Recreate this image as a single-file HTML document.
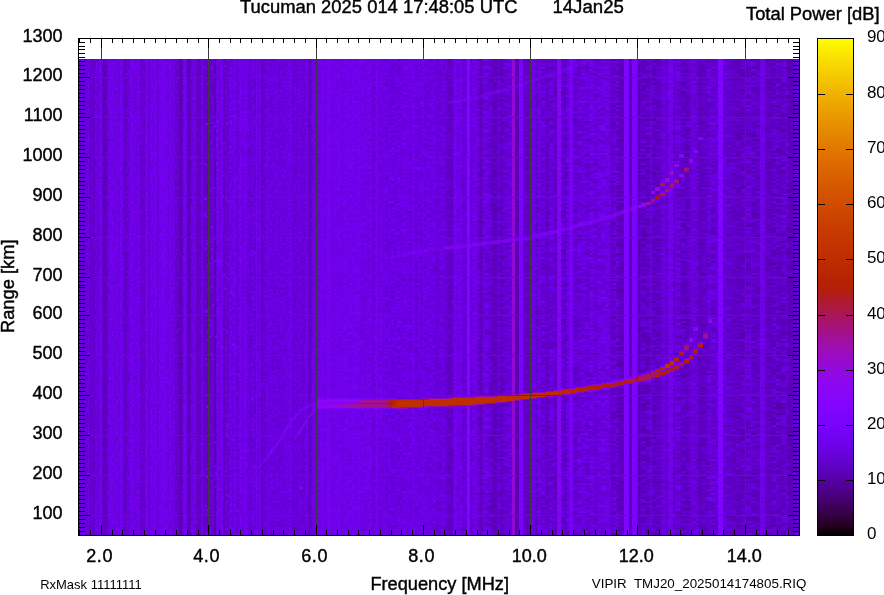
<!DOCTYPE html>
<html lang="en"><head><meta charset="utf-8"><title>Tucuman 2025 014 17:48:05 UTC ionogram</title>
<style>html,body{margin:0;padding:0;background:#fff;overflow:hidden}svg{display:block}text{font-family:"Liberation Sans",sans-serif;fill:#000}</style></head><body>
<svg width="884" height="595" viewBox="0 0 884 595">
<defs>
<linearGradient id="cb" x1="0" y1="0" x2="0" y2="1">
<stop offset="0.0000" stop-color="#ffff00"/>
<stop offset="0.0222" stop-color="#fcee00"/>
<stop offset="0.0444" stop-color="#f9de00"/>
<stop offset="0.0667" stop-color="#f6cf00"/>
<stop offset="0.0889" stop-color="#f3c100"/>
<stop offset="0.1111" stop-color="#f0b300"/>
<stop offset="0.1333" stop-color="#eda600"/>
<stop offset="0.1556" stop-color="#ea9a00"/>
<stop offset="0.1778" stop-color="#e78e00"/>
<stop offset="0.2000" stop-color="#e48300"/>
<stop offset="0.2222" stop-color="#e17800"/>
<stop offset="0.2444" stop-color="#de6e00"/>
<stop offset="0.2667" stop-color="#da6500"/>
<stop offset="0.2889" stop-color="#d75c00"/>
<stop offset="0.3111" stop-color="#d45300"/>
<stop offset="0.3333" stop-color="#d04c00"/>
<stop offset="0.3556" stop-color="#cd4400"/>
<stop offset="0.3778" stop-color="#c93d00"/>
<stop offset="0.4000" stop-color="#c63700"/>
<stop offset="0.4222" stop-color="#c23100"/>
<stop offset="0.4444" stop-color="#be2c00"/>
<stop offset="0.4667" stop-color="#ba2700"/>
<stop offset="0.4889" stop-color="#b62200"/>
<stop offset="0.5111" stop-color="#b21e12"/>
<stop offset="0.5333" stop-color="#ae1a35"/>
<stop offset="0.5556" stop-color="#aa1657"/>
<stop offset="0.5778" stop-color="#a61378"/>
<stop offset="0.6000" stop-color="#a11096"/>
<stop offset="0.6222" stop-color="#9d0eb1"/>
<stop offset="0.6444" stop-color="#980bc9"/>
<stop offset="0.6667" stop-color="#9309dd"/>
<stop offset="0.6889" stop-color="#8e08ec"/>
<stop offset="0.7111" stop-color="#8906f7"/>
<stop offset="0.7333" stop-color="#8405fe"/>
<stop offset="0.7556" stop-color="#7e04ff"/>
<stop offset="0.7778" stop-color="#7803fb"/>
<stop offset="0.8000" stop-color="#7202f3"/>
<stop offset="0.8222" stop-color="#6c01e5"/>
<stop offset="0.8444" stop-color="#6501d3"/>
<stop offset="0.8667" stop-color="#5d01be"/>
<stop offset="0.8889" stop-color="#5500a4"/>
<stop offset="0.9111" stop-color="#4c0087"/>
<stop offset="0.9333" stop-color="#420068"/>
<stop offset="0.9556" stop-color="#360046"/>
<stop offset="0.9778" stop-color="#260023"/>
<stop offset="1.0000" stop-color="#000000"/>
</linearGradient>
<filter id="n0" x="0" y="0" width="100%" height="100%" color-interpolation-filters="sRGB"><feTurbulence type="fractalNoise" baseFrequency="0.83 0.71" numOctaves="1" seed="3" result="t"/><feColorMatrix in="t" type="matrix" values="0.253 0 0 0 0.287  0 0 0 0 0.004  0.581 0 0 0 0.588  0 0 0 0 1" result="c"/><feFlood x="0" y="0" width="1" height="1" flood-color="#000"/><feComposite width="1" height="2"/><feTile result="m"/><feComposite in="c" in2="m" operator="in" result="p0"/><feOffset in="p0" dx="0" dy="1" result="r1"/><feMerge><feMergeNode in="p0"/><feMergeNode in="r1"/></feMerge></filter>
<filter id="n1" x="0" y="0" width="100%" height="100%" color-interpolation-filters="sRGB"><feTurbulence type="fractalNoise" baseFrequency="0.83 0.71" numOctaves="1" seed="11" result="t"/><feColorMatrix in="t" type="matrix" values="0.160 0 0 0 0.336  0 0 0 0 0.004  0.367 0 0 0 0.701  0 0 0 0 1" result="c"/><feFlood x="0" y="0" width="1" height="1" flood-color="#000"/><feComposite width="2" height="2"/><feTile result="m"/><feComposite in="c" in2="m" operator="in" result="p0"/><feOffset in="p0" dx="1" dy="0" result="q1"/><feMerge result="row"><feMergeNode in="p0"/><feMergeNode in="q1"/></feMerge><feOffset in="row" dx="0" dy="1" result="r1"/><feMerge><feMergeNode in="row"/><feMergeNode in="r1"/></feMerge></filter>
<filter id="n2" x="0" y="0" width="100%" height="100%" color-interpolation-filters="sRGB"><feTurbulence type="fractalNoise" baseFrequency="0.83 0.71" numOctaves="1" seed="17" result="t"/><feColorMatrix in="t" type="matrix" values="0.173 0 0 0 0.329  0 0 0 0 0.004  0.398 0 0 0 0.686  0 0 0 0 1" result="c"/><feFlood x="1" y="0" width="1" height="1" flood-color="#000"/><feComposite width="3" height="2"/><feTile result="m"/><feComposite in="c" in2="m" operator="in" result="p0"/><feOffset in="p0" dx="-1" dy="0" result="q0"/><feOffset in="p0" dx="1" dy="0" result="q2"/><feMerge result="row"><feMergeNode in="p0"/><feMergeNode in="q0"/><feMergeNode in="q2"/></feMerge><feOffset in="row" dx="0" dy="1" result="r1"/><feMerge><feMergeNode in="row"/><feMergeNode in="r1"/></feMerge></filter>
<filter id="n3" x="0" y="0" width="100%" height="100%" color-interpolation-filters="sRGB"><feTurbulence type="fractalNoise" baseFrequency="0.83 0.71" numOctaves="1" seed="23" result="t"/><feColorMatrix in="t" type="matrix" values="0.227 0 0 0 0.285  0 0 0 0 0.004  0.520 0 0 0 0.585  0 0 0 0 1" result="c"/><feFlood x="1" y="0" width="1" height="1" flood-color="#000"/><feComposite width="4" height="2"/><feTile result="m"/><feComposite in="c" in2="m" operator="in" result="p0"/><feOffset in="p0" dx="-1" dy="0" result="q0"/><feOffset in="p0" dx="1" dy="0" result="q2"/><feOffset in="p0" dx="2" dy="0" result="q3"/><feMerge result="row"><feMergeNode in="p0"/><feMergeNode in="q0"/><feMergeNode in="q2"/><feMergeNode in="q3"/></feMerge><feOffset in="row" dx="0" dy="1" result="r1"/><feMerge><feMergeNode in="row"/><feMergeNode in="r1"/></feMerge></filter>
<filter id="n4" x="0" y="0" width="100%" height="100%" color-interpolation-filters="sRGB"><feTurbulence type="fractalNoise" baseFrequency="0.83 0.71" numOctaves="1" seed="29" result="t"/><feColorMatrix in="t" type="matrix" values="0.240 0 0 0 0.261  0 0 0 0 0.004  0.551 0 0 0 0.530  0 0 0 0 1" result="c"/><feFlood x="2" y="0" width="1" height="1" flood-color="#000"/><feComposite width="5" height="2"/><feTile result="m"/><feComposite in="c" in2="m" operator="in" result="p0"/><feOffset in="p0" dx="-2" dy="0" result="q0"/><feOffset in="p0" dx="-1" dy="0" result="q1"/><feOffset in="p0" dx="1" dy="0" result="q3"/><feOffset in="p0" dx="2" dy="0" result="q4"/><feMerge result="row"><feMergeNode in="p0"/><feMergeNode in="q0"/><feMergeNode in="q1"/><feMergeNode in="q3"/><feMergeNode in="q4"/></feMerge><feOffset in="row" dx="0" dy="1" result="r1"/><feMerge><feMergeNode in="row"/><feMergeNode in="r1"/></feMerge></filter>
<clipPath id="dc"><rect x="79" y="59" width="720" height="476"/></clipPath>
</defs>
<rect width="884" height="595" fill="#fff"/>
<g clip-path="url(#dc)" shape-rendering="crispEdges">
<rect x="79" y="59" width="720" height="476" fill="#6801dd"/>
<g transform="translate(79,59)"><rect x="0" y="0" width="119" height="476" filter="url(#n0)"/></g>
<g transform="translate(198,59)"><rect x="0" y="0" width="139" height="476" filter="url(#n1)"/></g>
<g transform="translate(337,59)"><rect x="0" y="0" width="140" height="476" filter="url(#n2)"/></g>
<g transform="translate(477,59)"><rect x="0" y="0" width="134" height="476" filter="url(#n3)"/></g>
<g transform="translate(611,59)"><rect x="0" y="0" width="188" height="476" filter="url(#n4)"/></g>
<rect x="79.0" y="59" width="1.6" height="476" fill="#510096" fill-opacity="0.048"/>
<rect x="80.5" y="59" width="1.6" height="476" fill="#7e04ff" fill-opacity="0.096"/>
<rect x="82.0" y="59" width="1.6" height="476" fill="#510096" fill-opacity="0.042"/>
<rect x="83.5" y="59" width="1.6" height="476" fill="#510096" fill-opacity="0.059"/>
<rect x="85.0" y="59" width="1.6" height="476" fill="#510096" fill-opacity="0.174"/>
<rect x="86.5" y="59" width="1.6" height="476" fill="#510096" fill-opacity="0.040"/>
<rect x="88.0" y="59" width="1.6" height="476" fill="#7e04ff" fill-opacity="0.208"/>
<rect x="89.5" y="59" width="1.6" height="476" fill="#7e04ff" fill-opacity="0.079"/>
<rect x="91.0" y="59" width="1.6" height="476" fill="#7e04ff" fill-opacity="0.194"/>
<rect x="92.5" y="59" width="1.6" height="476" fill="#7e04ff" fill-opacity="0.047"/>
<rect x="94.0" y="59" width="1.6" height="476" fill="#7e04ff" fill-opacity="0.074"/>
<rect x="95.5" y="59" width="1.6" height="476" fill="#7e04ff" fill-opacity="0.035"/>
<rect x="97.0" y="59" width="1.6" height="476" fill="#510096" fill-opacity="0.312"/>
<rect x="98.5" y="59" width="1.6" height="476" fill="#7e04ff" fill-opacity="0.160"/>
<rect x="100.0" y="59" width="1.6" height="476" fill="#7e04ff" fill-opacity="0.095"/>
<rect x="101.5" y="59" width="1.6" height="476" fill="#7e04ff" fill-opacity="0.093"/>
<rect x="103.0" y="59" width="1.6" height="476" fill="#510096" fill-opacity="0.316"/>
<rect x="104.5" y="59" width="1.6" height="476" fill="#510096" fill-opacity="0.326"/>
<rect x="106.0" y="59" width="1.6" height="476" fill="#510096" fill-opacity="0.166"/>
<rect x="107.5" y="59" width="1.6" height="476" fill="#510096" fill-opacity="0.088"/>
<rect x="109.0" y="59" width="1.6" height="476" fill="#7e04ff" fill-opacity="0.057"/>
<rect x="110.5" y="59" width="1.6" height="476" fill="#510096" fill-opacity="0.009"/>
<rect x="112.0" y="59" width="1.6" height="476" fill="#7e04ff" fill-opacity="0.097"/>
<rect x="113.5" y="59" width="1.6" height="476" fill="#510096" fill-opacity="0.120"/>
<rect x="115.0" y="59" width="1.6" height="476" fill="#7e04ff" fill-opacity="0.058"/>
<rect x="116.5" y="59" width="1.6" height="476" fill="#7e04ff" fill-opacity="0.074"/>
<rect x="118.0" y="59" width="1.6" height="476" fill="#510096" fill-opacity="0.124"/>
<rect x="119.5" y="59" width="1.6" height="476" fill="#7e04ff" fill-opacity="0.321"/>
<rect x="121.0" y="59" width="1.6" height="476" fill="#7e04ff" fill-opacity="0.104"/>
<rect x="122.5" y="59" width="1.6" height="476" fill="#7e04ff" fill-opacity="0.224"/>
<rect x="124.0" y="59" width="1.6" height="476" fill="#510096" fill-opacity="0.116"/>
<rect x="125.5" y="59" width="1.6" height="476" fill="#510096" fill-opacity="0.138"/>
<rect x="127.0" y="59" width="1.6" height="476" fill="#510096" fill-opacity="0.064"/>
<rect x="128.5" y="59" width="1.6" height="476" fill="#510096" fill-opacity="0.020"/>
<rect x="130.0" y="59" width="1.6" height="476" fill="#7e04ff" fill-opacity="0.118"/>
<rect x="131.5" y="59" width="1.6" height="476" fill="#7e04ff" fill-opacity="0.046"/>
<rect x="133.0" y="59" width="1.6" height="476" fill="#510096" fill-opacity="0.084"/>
<rect x="134.5" y="59" width="1.6" height="476" fill="#510096" fill-opacity="0.179"/>
<rect x="136.0" y="59" width="1.6" height="476" fill="#510096" fill-opacity="0.097"/>
<rect x="137.5" y="59" width="1.6" height="476" fill="#7e04ff" fill-opacity="0.228"/>
<rect x="139.0" y="59" width="1.6" height="476" fill="#510096" fill-opacity="0.151"/>
<rect x="140.5" y="59" width="1.6" height="476" fill="#7e04ff" fill-opacity="0.046"/>
<rect x="142.0" y="59" width="1.6" height="476" fill="#7e04ff" fill-opacity="0.080"/>
<rect x="143.5" y="59" width="1.6" height="476" fill="#510096" fill-opacity="0.279"/>
<rect x="145.0" y="59" width="1.6" height="476" fill="#7e04ff" fill-opacity="0.009"/>
<rect x="146.5" y="59" width="1.6" height="476" fill="#7e04ff" fill-opacity="0.244"/>
<rect x="148.0" y="59" width="1.6" height="476" fill="#510096" fill-opacity="0.377"/>
<rect x="149.5" y="59" width="1.6" height="476" fill="#510096" fill-opacity="0.060"/>
<rect x="151.0" y="59" width="1.6" height="476" fill="#510096" fill-opacity="0.020"/>
<rect x="152.5" y="59" width="1.6" height="476" fill="#510096" fill-opacity="0.153"/>
<rect x="154.0" y="59" width="1.6" height="476" fill="#7e04ff" fill-opacity="0.093"/>
<rect x="155.5" y="59" width="1.6" height="476" fill="#510096" fill-opacity="0.012"/>
<rect x="157.0" y="59" width="1.6" height="476" fill="#510096" fill-opacity="0.274"/>
<rect x="158.5" y="59" width="1.6" height="476" fill="#7e04ff" fill-opacity="0.155"/>
<rect x="160.0" y="59" width="1.6" height="476" fill="#7e04ff" fill-opacity="0.125"/>
<rect x="161.5" y="59" width="1.6" height="476" fill="#7e04ff" fill-opacity="0.177"/>
<rect x="163.0" y="59" width="1.6" height="476" fill="#7e04ff" fill-opacity="0.269"/>
<rect x="164.5" y="59" width="1.6" height="476" fill="#7e04ff" fill-opacity="0.068"/>
<rect x="166.0" y="59" width="1.6" height="476" fill="#7e04ff" fill-opacity="0.022"/>
<rect x="167.5" y="59" width="1.6" height="476" fill="#510096" fill-opacity="0.243"/>
<rect x="169.0" y="59" width="1.6" height="476" fill="#7e04ff" fill-opacity="0.115"/>
<rect x="170.5" y="59" width="1.6" height="476" fill="#510096" fill-opacity="0.114"/>
<rect x="172.0" y="59" width="1.6" height="476" fill="#510096" fill-opacity="0.085"/>
<rect x="173.5" y="59" width="1.6" height="476" fill="#510096" fill-opacity="0.237"/>
<rect x="175.0" y="59" width="1.6" height="476" fill="#510096" fill-opacity="0.181"/>
<rect x="176.5" y="59" width="1.6" height="476" fill="#510096" fill-opacity="0.099"/>
<rect x="178.0" y="59" width="1.6" height="476" fill="#7e04ff" fill-opacity="0.241"/>
<rect x="179.5" y="59" width="1.6" height="476" fill="#510096" fill-opacity="0.380"/>
<rect x="181.0" y="59" width="1.6" height="476" fill="#510096" fill-opacity="0.273"/>
<rect x="182.5" y="59" width="1.6" height="476" fill="#7e04ff" fill-opacity="0.045"/>
<rect x="184.0" y="59" width="1.6" height="476" fill="#7e04ff" fill-opacity="0.270"/>
<rect x="185.5" y="59" width="1.6" height="476" fill="#7e04ff" fill-opacity="0.108"/>
<rect x="187.0" y="59" width="1.6" height="476" fill="#510096" fill-opacity="0.355"/>
<rect x="188.5" y="59" width="1.6" height="476" fill="#510096" fill-opacity="0.471"/>
<rect x="190.0" y="59" width="1.6" height="476" fill="#7e04ff" fill-opacity="0.067"/>
<rect x="191.5" y="59" width="1.6" height="476" fill="#510096" fill-opacity="0.138"/>
<rect x="193.0" y="59" width="1.6" height="476" fill="#510096" fill-opacity="0.209"/>
<rect x="194.5" y="59" width="1.6" height="476" fill="#7e04ff" fill-opacity="0.183"/>
<rect x="196.0" y="59" width="1.6" height="476" fill="#7e04ff" fill-opacity="0.206"/>
<rect x="197.5" y="59" width="1.6" height="476" fill="#7e04ff" fill-opacity="0.029"/>
<rect x="199.0" y="59" width="1.6" height="476" fill="#7e04ff" fill-opacity="0.046"/>
<rect x="200.5" y="59" width="1.6" height="476" fill="#7e04ff" fill-opacity="0.081"/>
<rect x="202.0" y="59" width="1.6" height="476" fill="#7e04ff" fill-opacity="0.298"/>
<rect x="203.5" y="59" width="1.6" height="476" fill="#7e04ff" fill-opacity="0.116"/>
<rect x="205.0" y="59" width="1.6" height="476" fill="#7e04ff" fill-opacity="0.097"/>
<rect x="206.5" y="59" width="1.6" height="476" fill="#7e04ff" fill-opacity="0.102"/>
<rect x="208.0" y="59" width="1.6" height="476" fill="#510096" fill-opacity="0.293"/>
<rect x="209.5" y="59" width="1.6" height="476" fill="#7e04ff" fill-opacity="0.240"/>
<rect x="211.0" y="59" width="1.6" height="476" fill="#7e04ff" fill-opacity="0.179"/>
<rect x="212.5" y="59" width="1.6" height="476" fill="#7e04ff" fill-opacity="0.099"/>
<rect x="214.0" y="59" width="1.6" height="476" fill="#510096" fill-opacity="0.369"/>
<rect x="215.5" y="59" width="1.6" height="476" fill="#510096" fill-opacity="0.118"/>
<rect x="217.0" y="59" width="1.6" height="476" fill="#7e04ff" fill-opacity="0.158"/>
<rect x="218.5" y="59" width="1.6" height="476" fill="#510096" fill-opacity="0.339"/>
<rect x="220.0" y="59" width="1.6" height="476" fill="#510096" fill-opacity="0.034"/>
<rect x="221.5" y="59" width="1.6" height="476" fill="#7e04ff" fill-opacity="0.191"/>
<rect x="223.0" y="59" width="1.6" height="476" fill="#510096" fill-opacity="0.245"/>
<rect x="224.6" y="59" width="1.6" height="476" fill="#7e04ff" fill-opacity="0.301"/>
<rect x="226.1" y="59" width="1.6" height="476" fill="#7e04ff" fill-opacity="0.103"/>
<rect x="227.7" y="59" width="1.6" height="476" fill="#510096" fill-opacity="0.028"/>
<rect x="229.3" y="59" width="1.6" height="476" fill="#7e04ff" fill-opacity="0.061"/>
<rect x="230.8" y="59" width="1.6" height="476" fill="#7e04ff" fill-opacity="0.122"/>
<rect x="232.4" y="59" width="1.6" height="476" fill="#7e04ff" fill-opacity="0.023"/>
<rect x="234.0" y="59" width="1.7" height="476" fill="#7e04ff" fill-opacity="0.214"/>
<rect x="235.6" y="59" width="1.7" height="476" fill="#510096" fill-opacity="0.124"/>
<rect x="237.2" y="59" width="1.7" height="476" fill="#510096" fill-opacity="0.078"/>
<rect x="238.9" y="59" width="1.7" height="476" fill="#7e04ff" fill-opacity="0.195"/>
<rect x="240.5" y="59" width="1.7" height="476" fill="#7e04ff" fill-opacity="0.005"/>
<rect x="242.2" y="59" width="1.7" height="476" fill="#510096" fill-opacity="0.165"/>
<rect x="243.8" y="59" width="1.7" height="476" fill="#7e04ff" fill-opacity="0.177"/>
<rect x="245.5" y="59" width="1.7" height="476" fill="#7e04ff" fill-opacity="0.274"/>
<rect x="247.2" y="59" width="1.7" height="476" fill="#510096" fill-opacity="0.083"/>
<rect x="248.9" y="59" width="1.8" height="476" fill="#510096" fill-opacity="0.258"/>
<rect x="250.6" y="59" width="1.8" height="476" fill="#510096" fill-opacity="0.025"/>
<rect x="252.3" y="59" width="1.8" height="476" fill="#510096" fill-opacity="0.028"/>
<rect x="254.1" y="59" width="1.8" height="476" fill="#510096" fill-opacity="0.056"/>
<rect x="255.8" y="59" width="1.8" height="476" fill="#7e04ff" fill-opacity="0.263"/>
<rect x="257.6" y="59" width="1.8" height="476" fill="#510096" fill-opacity="0.192"/>
<rect x="259.3" y="59" width="1.8" height="476" fill="#7e04ff" fill-opacity="0.236"/>
<rect x="261.1" y="59" width="1.8" height="476" fill="#510096" fill-opacity="0.237"/>
<rect x="262.9" y="59" width="1.9" height="476" fill="#510096" fill-opacity="0.147"/>
<rect x="264.7" y="59" width="1.9" height="476" fill="#7e04ff" fill-opacity="0.118"/>
<rect x="266.5" y="59" width="1.9" height="476" fill="#7e04ff" fill-opacity="0.211"/>
<rect x="268.3" y="59" width="1.9" height="476" fill="#7e04ff" fill-opacity="0.161"/>
<rect x="270.2" y="59" width="1.9" height="476" fill="#7e04ff" fill-opacity="0.065"/>
<rect x="272.0" y="59" width="1.9" height="476" fill="#7e04ff" fill-opacity="0.027"/>
<rect x="273.9" y="59" width="1.9" height="476" fill="#7e04ff" fill-opacity="0.029"/>
<rect x="275.8" y="59" width="1.9" height="476" fill="#7e04ff" fill-opacity="0.108"/>
<rect x="277.7" y="59" width="2.0" height="476" fill="#510096" fill-opacity="0.033"/>
<rect x="279.6" y="59" width="2.0" height="476" fill="#7e04ff" fill-opacity="0.052"/>
<rect x="281.5" y="59" width="2.0" height="476" fill="#7e04ff" fill-opacity="0.107"/>
<rect x="283.4" y="59" width="2.0" height="476" fill="#7e04ff" fill-opacity="0.000"/>
<rect x="285.4" y="59" width="2.0" height="476" fill="#7e04ff" fill-opacity="0.143"/>
<rect x="287.3" y="59" width="2.0" height="476" fill="#7e04ff" fill-opacity="0.106"/>
<rect x="289.3" y="59" width="2.0" height="476" fill="#7e04ff" fill-opacity="0.376"/>
<rect x="291.3" y="59" width="2.0" height="476" fill="#7e04ff" fill-opacity="0.061"/>
<rect x="293.3" y="59" width="2.1" height="476" fill="#510096" fill-opacity="0.080"/>
<rect x="295.3" y="59" width="2.1" height="476" fill="#510096" fill-opacity="0.070"/>
<rect x="297.3" y="59" width="2.1" height="476" fill="#510096" fill-opacity="0.002"/>
<rect x="299.3" y="59" width="2.1" height="476" fill="#7e04ff" fill-opacity="0.173"/>
<rect x="301.4" y="59" width="2.1" height="476" fill="#510096" fill-opacity="0.063"/>
<rect x="303.4" y="59" width="2.1" height="476" fill="#7e04ff" fill-opacity="0.072"/>
<rect x="305.5" y="59" width="2.1" height="476" fill="#7e04ff" fill-opacity="0.344"/>
<rect x="307.6" y="59" width="2.2" height="476" fill="#510096" fill-opacity="0.480"/>
<rect x="309.7" y="59" width="2.2" height="476" fill="#510096" fill-opacity="0.210"/>
<rect x="311.8" y="59" width="2.2" height="476" fill="#7e04ff" fill-opacity="0.046"/>
<rect x="313.9" y="59" width="2.2" height="476" fill="#7e04ff" fill-opacity="0.074"/>
<rect x="316.1" y="59" width="2.2" height="476" fill="#7e04ff" fill-opacity="0.045"/>
<rect x="318.2" y="59" width="2.2" height="476" fill="#510096" fill-opacity="0.081"/>
<rect x="320.4" y="59" width="2.2" height="476" fill="#7e04ff" fill-opacity="0.123"/>
<rect x="322.6" y="59" width="2.3" height="476" fill="#7e04ff" fill-opacity="0.053"/>
<rect x="324.8" y="59" width="2.3" height="476" fill="#510096" fill-opacity="0.098"/>
<rect x="327.0" y="59" width="2.3" height="476" fill="#7e04ff" fill-opacity="0.454"/>
<rect x="329.3" y="59" width="2.3" height="476" fill="#7e04ff" fill-opacity="0.066"/>
<rect x="331.5" y="59" width="2.3" height="476" fill="#510096" fill-opacity="0.104"/>
<rect x="333.8" y="59" width="2.3" height="476" fill="#510096" fill-opacity="0.019"/>
<rect x="336.1" y="59" width="2.3" height="476" fill="#510096" fill-opacity="0.042"/>
<rect x="338.3" y="59" width="2.4" height="476" fill="#510096" fill-opacity="0.004"/>
<rect x="340.7" y="59" width="2.4" height="476" fill="#510096" fill-opacity="0.180"/>
<rect x="343.0" y="59" width="2.4" height="476" fill="#510096" fill-opacity="0.032"/>
<rect x="345.3" y="59" width="2.4" height="476" fill="#7e04ff" fill-opacity="0.067"/>
<rect x="347.7" y="59" width="2.4" height="476" fill="#510096" fill-opacity="0.077"/>
<rect x="350.1" y="59" width="2.4" height="476" fill="#510096" fill-opacity="0.004"/>
<rect x="352.4" y="59" width="2.5" height="476" fill="#7e04ff" fill-opacity="0.063"/>
<rect x="354.8" y="59" width="2.5" height="476" fill="#7e04ff" fill-opacity="0.057"/>
<rect x="357.3" y="59" width="2.5" height="476" fill="#7e04ff" fill-opacity="0.098"/>
<rect x="359.7" y="59" width="2.5" height="476" fill="#510096" fill-opacity="0.112"/>
<rect x="362.2" y="59" width="2.5" height="476" fill="#510096" fill-opacity="0.023"/>
<rect x="364.6" y="59" width="2.5" height="476" fill="#510096" fill-opacity="0.023"/>
<rect x="367.1" y="59" width="2.6" height="476" fill="#7e04ff" fill-opacity="0.041"/>
<rect x="369.6" y="59" width="2.6" height="476" fill="#7e04ff" fill-opacity="0.072"/>
<rect x="372.1" y="59" width="2.6" height="476" fill="#510096" fill-opacity="0.177"/>
<rect x="374.7" y="59" width="2.6" height="476" fill="#7e04ff" fill-opacity="0.072"/>
<rect x="377.2" y="59" width="2.6" height="476" fill="#510096" fill-opacity="0.096"/>
<rect x="379.8" y="59" width="2.6" height="476" fill="#7e04ff" fill-opacity="0.045"/>
<rect x="382.4" y="59" width="2.7" height="476" fill="#510096" fill-opacity="0.098"/>
<rect x="385.0" y="59" width="2.7" height="476" fill="#7e04ff" fill-opacity="0.012"/>
<rect x="387.6" y="59" width="2.7" height="476" fill="#7e04ff" fill-opacity="0.079"/>
<rect x="390.2" y="59" width="2.7" height="476" fill="#510096" fill-opacity="0.010"/>
<rect x="392.9" y="59" width="2.7" height="476" fill="#7e04ff" fill-opacity="0.013"/>
<rect x="395.6" y="59" width="2.7" height="476" fill="#7e04ff" fill-opacity="0.053"/>
<rect x="398.3" y="59" width="2.8" height="476" fill="#7e04ff" fill-opacity="0.009"/>
<rect x="401.0" y="59" width="2.8" height="476" fill="#510096" fill-opacity="0.006"/>
<rect x="403.7" y="59" width="2.8" height="476" fill="#7e04ff" fill-opacity="0.101"/>
<rect x="406.5" y="59" width="2.8" height="476" fill="#7e04ff" fill-opacity="0.069"/>
<rect x="409.2" y="59" width="2.8" height="476" fill="#510096" fill-opacity="0.019"/>
<rect x="412.0" y="59" width="2.9" height="476" fill="#7e04ff" fill-opacity="0.181"/>
<rect x="414.8" y="59" width="2.9" height="476" fill="#510096" fill-opacity="0.076"/>
<rect x="417.6" y="59" width="2.9" height="476" fill="#7e04ff" fill-opacity="0.060"/>
<rect x="420.5" y="59" width="2.9" height="476" fill="#510096" fill-opacity="0.018"/>
<rect x="423.3" y="59" width="2.9" height="476" fill="#7e04ff" fill-opacity="0.009"/>
<rect x="426.2" y="59" width="2.9" height="476" fill="#7e04ff" fill-opacity="0.047"/>
<rect x="429.1" y="59" width="3.0" height="476" fill="#7e04ff" fill-opacity="0.015"/>
<rect x="432.0" y="59" width="3.0" height="476" fill="#7e04ff" fill-opacity="0.042"/>
<rect x="435.0" y="59" width="3.0" height="476" fill="#510096" fill-opacity="0.101"/>
<rect x="437.9" y="59" width="3.0" height="476" fill="#510096" fill-opacity="0.100"/>
<rect x="440.9" y="59" width="3.0" height="476" fill="#7e04ff" fill-opacity="0.081"/>
<rect x="443.9" y="59" width="3.1" height="476" fill="#510096" fill-opacity="0.127"/>
<rect x="446.9" y="59" width="3.1" height="476" fill="#510096" fill-opacity="0.136"/>
<rect x="450.0" y="59" width="3.1" height="476" fill="#510096" fill-opacity="0.194"/>
<rect x="453.0" y="59" width="3.1" height="476" fill="#7e04ff" fill-opacity="0.167"/>
<rect x="456.1" y="59" width="3.1" height="476" fill="#7e04ff" fill-opacity="0.099"/>
<rect x="459.2" y="59" width="3.2" height="476" fill="#7e04ff" fill-opacity="0.194"/>
<rect x="462.3" y="59" width="3.2" height="476" fill="#510096" fill-opacity="0.124"/>
<rect x="465.5" y="59" width="3.2" height="476" fill="#7e04ff" fill-opacity="0.000"/>
<rect x="468.6" y="59" width="3.2" height="476" fill="#510096" fill-opacity="0.151"/>
<rect x="471.8" y="59" width="3.3" height="476" fill="#7e04ff" fill-opacity="0.101"/>
<rect x="475.0" y="59" width="3.3" height="476" fill="#7e04ff" fill-opacity="0.210"/>
<rect x="478.2" y="59" width="3.3" height="476" fill="#510096" fill-opacity="0.118"/>
<rect x="481.5" y="59" width="3.3" height="476" fill="#7e04ff" fill-opacity="0.206"/>
<rect x="484.8" y="59" width="3.3" height="476" fill="#7e04ff" fill-opacity="0.130"/>
<rect x="488.1" y="59" width="3.4" height="476" fill="#510096" fill-opacity="0.023"/>
<rect x="491.4" y="59" width="3.4" height="476" fill="#510096" fill-opacity="0.260"/>
<rect x="494.7" y="59" width="3.4" height="476" fill="#7e04ff" fill-opacity="0.186"/>
<rect x="498.1" y="59" width="3.4" height="476" fill="#510096" fill-opacity="0.013"/>
<rect x="501.4" y="59" width="3.5" height="476" fill="#510096" fill-opacity="0.080"/>
<rect x="504.9" y="59" width="3.5" height="476" fill="#7e04ff" fill-opacity="0.053"/>
<rect x="508.3" y="59" width="3.5" height="476" fill="#7e04ff" fill-opacity="0.054"/>
<rect x="511.7" y="59" width="3.5" height="476" fill="#7e04ff" fill-opacity="0.198"/>
<rect x="515.2" y="59" width="3.5" height="476" fill="#510096" fill-opacity="0.135"/>
<rect x="518.7" y="59" width="3.6" height="476" fill="#7e04ff" fill-opacity="0.150"/>
<rect x="522.2" y="59" width="3.6" height="476" fill="#7e04ff" fill-opacity="0.196"/>
<rect x="525.8" y="59" width="3.6" height="476" fill="#7e04ff" fill-opacity="0.192"/>
<rect x="529.3" y="59" width="3.6" height="476" fill="#510096" fill-opacity="0.024"/>
<rect x="532.9" y="59" width="3.7" height="476" fill="#510096" fill-opacity="0.098"/>
<rect x="536.5" y="59" width="3.7" height="476" fill="#7e04ff" fill-opacity="0.134"/>
<rect x="540.2" y="59" width="3.7" height="476" fill="#7e04ff" fill-opacity="0.015"/>
<rect x="543.8" y="59" width="3.7" height="476" fill="#7e04ff" fill-opacity="0.016"/>
<rect x="547.5" y="59" width="3.8" height="476" fill="#7e04ff" fill-opacity="0.188"/>
<rect x="551.2" y="59" width="3.8" height="476" fill="#510096" fill-opacity="0.035"/>
<rect x="555.0" y="59" width="3.8" height="476" fill="#510096" fill-opacity="0.303"/>
<rect x="558.7" y="59" width="3.8" height="476" fill="#510096" fill-opacity="0.051"/>
<rect x="562.5" y="59" width="3.9" height="476" fill="#510096" fill-opacity="0.245"/>
<rect x="566.3" y="59" width="3.9" height="476" fill="#7e04ff" fill-opacity="0.108"/>
<rect x="570.2" y="59" width="3.9" height="476" fill="#7e04ff" fill-opacity="0.042"/>
<rect x="574.0" y="59" width="3.9" height="476" fill="#510096" fill-opacity="0.081"/>
<rect x="577.9" y="59" width="4.0" height="476" fill="#510096" fill-opacity="0.001"/>
<rect x="581.9" y="59" width="4.0" height="476" fill="#7e04ff" fill-opacity="0.110"/>
<rect x="585.8" y="59" width="4.0" height="476" fill="#7e04ff" fill-opacity="0.010"/>
<rect x="589.8" y="59" width="4.0" height="476" fill="#7e04ff" fill-opacity="0.175"/>
<rect x="593.8" y="59" width="4.1" height="476" fill="#510096" fill-opacity="0.008"/>
<rect x="597.8" y="59" width="4.1" height="476" fill="#7e04ff" fill-opacity="0.137"/>
<rect x="601.8" y="59" width="4.1" height="476" fill="#7e04ff" fill-opacity="0.197"/>
<rect x="605.9" y="59" width="4.2" height="476" fill="#7e04ff" fill-opacity="0.213"/>
<rect x="610.0" y="59" width="4.2" height="476" fill="#510096" fill-opacity="0.089"/>
<rect x="614.2" y="59" width="4.2" height="476" fill="#7e04ff" fill-opacity="0.116"/>
<rect x="618.3" y="59" width="4.2" height="476" fill="#510096" fill-opacity="0.248"/>
<rect x="622.5" y="59" width="4.3" height="476" fill="#510096" fill-opacity="0.143"/>
<rect x="626.7" y="59" width="4.3" height="476" fill="#510096" fill-opacity="0.259"/>
<rect x="631.0" y="59" width="4.3" height="476" fill="#7e04ff" fill-opacity="0.141"/>
<rect x="635.2" y="59" width="4.4" height="476" fill="#510096" fill-opacity="0.163"/>
<rect x="639.5" y="59" width="4.4" height="476" fill="#510096" fill-opacity="0.002"/>
<rect x="643.9" y="59" width="4.4" height="476" fill="#510096" fill-opacity="0.025"/>
<rect x="648.2" y="59" width="4.4" height="476" fill="#510096" fill-opacity="0.004"/>
<rect x="652.6" y="59" width="4.5" height="476" fill="#510096" fill-opacity="0.078"/>
<rect x="657.0" y="59" width="4.5" height="476" fill="#7e04ff" fill-opacity="0.031"/>
<rect x="661.5" y="59" width="4.5" height="476" fill="#7e04ff" fill-opacity="0.236"/>
<rect x="666.0" y="59" width="4.6" height="476" fill="#7e04ff" fill-opacity="0.006"/>
<rect x="670.5" y="59" width="4.6" height="476" fill="#7e04ff" fill-opacity="0.070"/>
<rect x="675.0" y="59" width="4.6" height="476" fill="#7e04ff" fill-opacity="0.132"/>
<rect x="679.6" y="59" width="4.6" height="476" fill="#510096" fill-opacity="0.026"/>
<rect x="684.2" y="59" width="4.7" height="476" fill="#510096" fill-opacity="0.166"/>
<rect x="688.8" y="59" width="4.7" height="476" fill="#510096" fill-opacity="0.073"/>
<rect x="693.5" y="59" width="4.7" height="476" fill="#7e04ff" fill-opacity="0.142"/>
<rect x="698.2" y="59" width="4.8" height="476" fill="#510096" fill-opacity="0.217"/>
<rect x="702.9" y="59" width="4.8" height="476" fill="#510096" fill-opacity="0.079"/>
<rect x="707.6" y="59" width="4.8" height="476" fill="#7e04ff" fill-opacity="0.133"/>
<rect x="712.4" y="59" width="4.9" height="476" fill="#7e04ff" fill-opacity="0.105"/>
<rect x="717.2" y="59" width="4.9" height="476" fill="#7e04ff" fill-opacity="0.001"/>
<rect x="722.1" y="59" width="4.9" height="476" fill="#7e04ff" fill-opacity="0.106"/>
<rect x="727.0" y="59" width="5.0" height="476" fill="#7e04ff" fill-opacity="0.022"/>
<rect x="731.9" y="59" width="5.0" height="476" fill="#510096" fill-opacity="0.156"/>
<rect x="736.8" y="59" width="5.0" height="476" fill="#510096" fill-opacity="0.206"/>
<rect x="741.8" y="59" width="5.1" height="476" fill="#510096" fill-opacity="0.084"/>
<rect x="746.8" y="59" width="5.1" height="476" fill="#7e04ff" fill-opacity="0.122"/>
<rect x="751.9" y="59" width="5.1" height="476" fill="#510096" fill-opacity="0.075"/>
<rect x="757.0" y="59" width="5.2" height="476" fill="#510096" fill-opacity="0.119"/>
<rect x="762.1" y="59" width="5.2" height="476" fill="#510096" fill-opacity="0.102"/>
<rect x="767.3" y="59" width="5.2" height="476" fill="#510096" fill-opacity="0.202"/>
<rect x="772.4" y="59" width="5.3" height="476" fill="#510096" fill-opacity="0.015"/>
<rect x="777.7" y="59" width="5.3" height="476" fill="#510096" fill-opacity="0.156"/>
<rect x="782.9" y="59" width="5.3" height="476" fill="#7e04ff" fill-opacity="0.048"/>
<rect x="788.2" y="59" width="5.4" height="476" fill="#510096" fill-opacity="0.312"/>
<rect x="793.5" y="59" width="5.4" height="476" fill="#7e04ff" fill-opacity="0.043"/>
<rect x="798.9" y="59" width="5.4" height="476" fill="#510096" fill-opacity="0.085"/>
<rect x="89" y="59" width="6" height="476" fill="#510096" fill-opacity="0.25"/>
<rect x="96" y="59" width="5" height="476" fill="#7e04ff" fill-opacity="0.2"/>
<rect x="102" y="59" width="5" height="476" fill="#510096" fill-opacity="0.22"/>
<rect x="108" y="59" width="15" height="476" fill="#7e04ff" fill-opacity="0.2"/>
<rect x="123" y="59" width="4" height="476" fill="#510096" fill-opacity="0.2"/>
<rect x="130" y="59" width="10" height="476" fill="#7e04ff" fill-opacity="0.22"/>
<rect x="141" y="59" width="3" height="476" fill="#510096" fill-opacity="0.22"/>
<rect x="145" y="59" width="30" height="476" fill="#7e04ff" fill-opacity="0.28"/>
<rect x="178" y="59" width="4" height="476" fill="#510096" fill-opacity="0.42"/>
<rect x="183" y="59" width="4" height="476" fill="#7e04ff" fill-opacity="0.3"/>
<rect x="187" y="59" width="4" height="476" fill="#510096" fill-opacity="0.38"/>
<rect x="192" y="59" width="4" height="476" fill="#7e04ff" fill-opacity="0.3"/>
<rect x="196" y="59" width="5" height="476" fill="#510096" fill-opacity="0.35"/>
<rect x="203" y="59" width="5" height="476" fill="#510096" fill-opacity="0.4"/>
<rect x="210" y="59" width="6" height="476" fill="#510096" fill-opacity="0.25"/>
<rect x="216" y="59" width="7" height="476" fill="#7e04ff" fill-opacity="0.15"/>
<rect x="224" y="59" width="5" height="476" fill="#510096" fill-opacity="0.22"/>
<rect x="240" y="59" width="5" height="476" fill="#7e04ff" fill-opacity="0.18"/>
<rect x="260" y="59" width="48" height="476" fill="#510096" fill-opacity="0.06"/>
<rect x="318" y="59" width="44" height="476" fill="#7e04ff" fill-opacity="0.3"/>
<rect x="362" y="59" width="24" height="476" fill="#7e04ff" fill-opacity="0.18"/>
<rect x="376" y="59" width="2" height="476" fill="#7e04ff" fill-opacity="0.35"/>
<rect x="447" y="59" width="6" height="476" fill="#510096" fill-opacity="0.22"/>
<rect x="454" y="59" width="3" height="476" fill="#7e04ff" fill-opacity="0.2"/>
<rect x="467" y="59" width="3" height="476" fill="#8004ff" fill-opacity="1"/>
<rect x="480" y="59" width="3" height="476" fill="#510096" fill-opacity="0.28"/>
<rect x="494" y="59" width="4" height="476" fill="#510096" fill-opacity="0.36"/>
<rect x="500" y="59" width="3" height="476" fill="#510096" fill-opacity="0.25"/>
<rect x="512" y="59" width="3" height="476" fill="#960ad3" fill-opacity="0.9"/>
<rect x="515" y="59" width="4" height="476" fill="#510096" fill-opacity="0.4"/>
<rect x="519" y="59" width="4" height="476" fill="#7d03fe" fill-opacity="0.85"/>
<rect x="523" y="59" width="7" height="476" fill="#510096" fill-opacity="0.34"/>
<rect x="531" y="59" width="5" height="476" fill="#7e04ff" fill-opacity="0.25"/>
<rect x="545" y="59" width="5" height="476" fill="#510096" fill-opacity="0.28"/>
<rect x="557" y="59" width="4" height="476" fill="#8605fb" fill-opacity="0.85"/>
<rect x="569" y="59" width="4" height="476" fill="#7a03fd" fill-opacity="0.75"/>
<rect x="624" y="59" width="5" height="476" fill="#7e04ff" fill-opacity="1"/>
<rect x="629" y="59" width="3" height="476" fill="#510096" fill-opacity="0.15"/>
<rect x="632" y="59" width="5" height="476" fill="#7c03fe" fill-opacity="0.95"/>
<rect x="638" y="59" width="22" height="476" fill="#510096" fill-opacity="0.12"/>
<rect x="649" y="59" width="4" height="476" fill="#7e04ff" fill-opacity="0.2"/>
<rect x="668" y="59" width="5" height="476" fill="#7e04ff" fill-opacity="0.5"/>
<rect x="690" y="59" width="5" height="476" fill="#7e04ff" fill-opacity="0.25"/>
<rect x="718" y="59" width="5" height="476" fill="#7e04ff" fill-opacity="1"/>
<rect x="760" y="59" width="5" height="476" fill="#7e04ff" fill-opacity="0.5"/>
<rect x="215" y="154" width="1" height="2" fill="#7803fb" fill-opacity="0.56"/>
<rect x="206" y="405" width="2" height="2" fill="#7d04ff" fill-opacity="0.74"/>
<rect x="230" y="291" width="2" height="2" fill="#7e04ff" fill-opacity="0.76"/>
<rect x="226" y="433" width="2" height="2" fill="#7f04ff" fill-opacity="0.60"/>
<rect x="216" y="144" width="2" height="2" fill="#7903fc" fill-opacity="0.93"/>
<rect x="218" y="426" width="2" height="2" fill="#7903fc" fill-opacity="0.52"/>
<rect x="219" y="261" width="2" height="2" fill="#8104ff" fill-opacity="0.74"/>
<rect x="216" y="486" width="2" height="2" fill="#7b03fd" fill-opacity="0.52"/>
<rect x="207" y="510" width="2" height="2" fill="#7703fa" fill-opacity="0.86"/>
<rect x="220" y="525" width="2" height="2" fill="#7d04ff" fill-opacity="0.52"/>
<rect x="204" y="284" width="2" height="2" fill="#7603f9" fill-opacity="0.69"/>
<rect x="205" y="206" width="1" height="2" fill="#7a03fd" fill-opacity="0.56"/>
<rect x="215" y="486" width="1" height="2" fill="#7d04fe" fill-opacity="0.70"/>
<rect x="219" y="450" width="1" height="2" fill="#7903fc" fill-opacity="0.81"/>
<rect x="230" y="121" width="2" height="2" fill="#7c03fe" fill-opacity="0.84"/>
<rect x="221" y="253" width="1" height="2" fill="#7703f9" fill-opacity="0.63"/>
<rect x="232" y="253" width="1" height="2" fill="#8004ff" fill-opacity="0.64"/>
<rect x="217" y="170" width="2" height="2" fill="#7703f9" fill-opacity="0.87"/>
<rect x="208" y="93" width="2" height="2" fill="#7502f8" fill-opacity="0.87"/>
<rect x="213" y="238" width="2" height="2" fill="#7f04ff" fill-opacity="0.68"/>
<rect x="215" y="235" width="1" height="2" fill="#7703fa" fill-opacity="0.52"/>
<rect x="214" y="465" width="2" height="2" fill="#7803fb" fill-opacity="0.88"/>
<rect x="210" y="400" width="1" height="2" fill="#7f04ff" fill-opacity="0.82"/>
<rect x="209" y="443" width="2" height="2" fill="#7e04ff" fill-opacity="0.67"/>
<rect x="216" y="514" width="2" height="2" fill="#7a03fd" fill-opacity="0.91"/>
<rect x="205" y="198" width="2" height="2" fill="#7f04ff" fill-opacity="0.85"/>
<rect x="218" y="500" width="2" height="2" fill="#7a03fd" fill-opacity="0.63"/>
<rect x="231" y="451" width="1" height="2" fill="#7903fc" fill-opacity="0.81"/>
<rect x="221" y="527" width="2" height="2" fill="#7e04ff" fill-opacity="0.59"/>
<rect x="213" y="153" width="1" height="2" fill="#7d04ff" fill-opacity="0.81"/>
<rect x="231" y="151" width="2" height="2" fill="#7d04ff" fill-opacity="0.86"/>
<rect x="211" y="257" width="2" height="2" fill="#7803fb" fill-opacity="0.89"/>
<rect x="213" y="249" width="1" height="2" fill="#7b03fe" fill-opacity="0.59"/>
<rect x="218" y="509" width="2" height="2" fill="#8104ff" fill-opacity="0.73"/>
<rect x="226" y="501" width="2" height="2" fill="#7e04ff" fill-opacity="0.83"/>
<rect x="217" y="311" width="2" height="2" fill="#7e04ff" fill-opacity="0.87"/>
<rect x="221" y="195" width="2" height="2" fill="#7502f8" fill-opacity="0.55"/>
<rect x="212" y="334" width="1" height="2" fill="#7a03fd" fill-opacity="0.67"/>
<rect x="219" y="509" width="2" height="2" fill="#7c03fe" fill-opacity="0.59"/>
<rect x="206" y="468" width="2" height="2" fill="#7a03fd" fill-opacity="0.58"/>
<rect x="216" y="120" width="1" height="2" fill="#8004ff" fill-opacity="0.89"/>
<rect x="223" y="243" width="2" height="2" fill="#8004ff" fill-opacity="0.58"/>
<rect x="210" y="189" width="2" height="2" fill="#7f04ff" fill-opacity="0.81"/>
<rect x="208" y="492" width="2" height="2" fill="#7c03fe" fill-opacity="0.78"/>
<rect x="230" y="374" width="1" height="2" fill="#7c03fe" fill-opacity="0.95"/>
<rect x="218" y="113" width="2" height="2" fill="#7603f9" fill-opacity="0.79"/>
<rect x="203" y="382" width="2" height="2" fill="#7d03fe" fill-opacity="0.76"/>
<rect x="215" y="138" width="2" height="2" fill="#8004ff" fill-opacity="0.68"/>
<rect x="204" y="301" width="2" height="2" fill="#7e04ff" fill-opacity="0.57"/>
<rect x="216" y="389" width="2" height="2" fill="#7803fb" fill-opacity="0.58"/>
<rect x="217" y="188" width="2" height="2" fill="#7a03fc" fill-opacity="0.75"/>
<rect x="209" y="324" width="2" height="2" fill="#7903fc" fill-opacity="0.93"/>
<rect x="219" y="411" width="1" height="2" fill="#7e04ff" fill-opacity="0.87"/>
<rect x="207" y="100" width="2" height="2" fill="#7d04fe" fill-opacity="0.57"/>
<rect x="228" y="399" width="2" height="2" fill="#7c03fe" fill-opacity="0.94"/>
<rect x="208" y="425" width="2" height="2" fill="#7f04ff" fill-opacity="0.70"/>
<rect x="212" y="409" width="1" height="2" fill="#7b03fe" fill-opacity="0.93"/>
<rect x="224" y="65" width="2" height="2" fill="#8004ff" fill-opacity="0.86"/>
<rect x="226" y="528" width="2" height="2" fill="#7b03fd" fill-opacity="0.86"/>
<rect x="228" y="97" width="1" height="2" fill="#8004ff" fill-opacity="0.88"/>
<rect x="225" y="236" width="2" height="2" fill="#7c03fe" fill-opacity="0.76"/>
<rect x="204" y="509" width="1" height="2" fill="#8004ff" fill-opacity="0.90"/>
<rect x="226" y="199" width="1" height="2" fill="#7b03fe" fill-opacity="0.86"/>
<rect x="204" y="137" width="2" height="2" fill="#7903fc" fill-opacity="0.65"/>
<rect x="212" y="452" width="1" height="2" fill="#7a03fd" fill-opacity="0.62"/>
<rect x="210" y="130" width="2" height="2" fill="#7502f8" fill-opacity="0.89"/>
<rect x="211" y="248" width="2" height="2" fill="#7e04ff" fill-opacity="0.85"/>
<rect x="208" y="252" width="1" height="2" fill="#7803fb" fill-opacity="0.79"/>
<rect x="208" y="328" width="2" height="2" fill="#7502f7" fill-opacity="0.92"/>
<rect x="227" y="121" width="1" height="2" fill="#7d03fe" fill-opacity="0.53"/>
<rect x="229" y="146" width="2" height="2" fill="#7703fa" fill-opacity="0.92"/>
<rect x="204" y="247" width="2" height="2" fill="#7603f9" fill-opacity="0.76"/>
<rect x="213" y="122" width="2" height="2" fill="#7603f9" fill-opacity="0.73"/>
<rect x="210" y="331" width="1" height="2" fill="#7e04ff" fill-opacity="0.55"/>
<rect x="221" y="489" width="1" height="2" fill="#7703fa" fill-opacity="0.83"/>
<rect x="210" y="458" width="2" height="2" fill="#7703fa" fill-opacity="0.73"/>
<rect x="226" y="494" width="2" height="2" fill="#7603f9" fill-opacity="0.61"/>
<rect x="210" y="393" width="2" height="2" fill="#7b03fe" fill-opacity="0.53"/>
<rect x="210" y="423" width="2" height="2" fill="#7b03fe" fill-opacity="0.54"/>
<rect x="221" y="506" width="2" height="2" fill="#7602f8" fill-opacity="0.59"/>
<rect x="204" y="198" width="2" height="2" fill="#8004ff" fill-opacity="0.80"/>
<rect x="203" y="310" width="1" height="2" fill="#7e04ff" fill-opacity="0.55"/>
<rect x="213" y="126" width="2" height="2" fill="#7c03fe" fill-opacity="0.59"/>
<rect x="205" y="513" width="2" height="2" fill="#7803fb" fill-opacity="0.77"/>
<rect x="227" y="239" width="2" height="2" fill="#8004ff" fill-opacity="0.90"/>
<rect x="210" y="132" width="1" height="2" fill="#7502f8" fill-opacity="0.58"/>
<rect x="209" y="353" width="1" height="2" fill="#7d04fe" fill-opacity="0.70"/>
<rect x="222" y="97" width="2" height="2" fill="#7a03fc" fill-opacity="0.69"/>
<rect x="228" y="423" width="2" height="2" fill="#7803fb" fill-opacity="0.82"/>
<rect x="226" y="189" width="1" height="2" fill="#7602f8" fill-opacity="0.51"/>
<rect x="211" y="353" width="2" height="2" fill="#8004ff" fill-opacity="0.78"/>
<rect x="210" y="269" width="2" height="2" fill="#7b03fe" fill-opacity="0.77"/>
<rect x="211" y="427" width="1" height="2" fill="#7e04ff" fill-opacity="0.63"/>
<rect x="225" y="487" width="2" height="2" fill="#7a03fd" fill-opacity="0.86"/>
<rect x="225" y="301" width="1" height="2" fill="#7c03fe" fill-opacity="0.74"/>
<rect x="228" y="109" width="2" height="2" fill="#7a03fd" fill-opacity="0.59"/>
<rect x="220" y="192" width="2" height="2" fill="#7b03fe" fill-opacity="0.95"/>
<rect x="205" y="68" width="2" height="2" fill="#7603f9" fill-opacity="0.56"/>
<rect x="215" y="260" width="2" height="2" fill="#7d04ff" fill-opacity="0.76"/>
<rect x="204" y="438" width="1" height="2" fill="#7803fb" fill-opacity="0.79"/>
<rect x="206" y="532" width="2" height="2" fill="#7703fa" fill-opacity="0.56"/>
<rect x="225" y="195" width="1" height="2" fill="#7e04ff" fill-opacity="0.55"/>
<rect x="227" y="415" width="2" height="2" fill="#7d03fe" fill-opacity="0.53"/>
<rect x="231" y="203" width="2" height="2" fill="#7703fa" fill-opacity="0.62"/>
<rect x="207" y="414" width="1" height="2" fill="#7803fb" fill-opacity="0.68"/>
<rect x="229" y="342" width="1" height="2" fill="#7f04ff" fill-opacity="0.89"/>
<rect x="218" y="452" width="2" height="2" fill="#7b03fe" fill-opacity="0.79"/>
<rect x="216" y="130" width="2" height="2" fill="#7b03fe" fill-opacity="0.86"/>
<rect x="210" y="227" width="2" height="2" fill="#7603f9" fill-opacity="0.75"/>
<rect x="226" y="331" width="2" height="2" fill="#7e04ff" fill-opacity="0.83"/>
<rect x="220" y="98" width="2" height="2" fill="#7603f9" fill-opacity="0.71"/>
<rect x="205" y="151" width="1" height="2" fill="#7e04ff" fill-opacity="0.63"/>
<rect x="206" y="406" width="2" height="2" fill="#7903fc" fill-opacity="0.87"/>
<rect x="223" y="149" width="2" height="2" fill="#7703f9" fill-opacity="0.51"/>
<rect x="227" y="200" width="2" height="2" fill="#7b03fe" fill-opacity="0.70"/>
<rect x="231" y="286" width="2" height="2" fill="#7903fc" fill-opacity="0.66"/>
<rect x="204" y="213" width="2" height="2" fill="#8004ff" fill-opacity="0.91"/>
<rect x="228" y="443" width="2" height="2" fill="#7b03fe" fill-opacity="0.69"/>
<rect x="217" y="137" width="2" height="2" fill="#7c03fe" fill-opacity="0.83"/>
<rect x="228" y="312" width="1" height="2" fill="#7502f8" fill-opacity="0.77"/>
<rect x="207" y="266" width="1" height="2" fill="#7c03fe" fill-opacity="0.93"/>
<rect x="219" y="454" width="1" height="2" fill="#7c03fe" fill-opacity="0.81"/>
<rect x="225" y="107" width="2" height="2" fill="#7903fc" fill-opacity="0.80"/>
<rect x="213" y="153" width="1" height="2" fill="#7602f8" fill-opacity="0.78"/>
<rect x="217" y="262" width="2" height="2" fill="#7c03fe" fill-opacity="0.67"/>
<rect x="222" y="496" width="2" height="2" fill="#7603f9" fill-opacity="0.59"/>
<rect x="226" y="123" width="2" height="2" fill="#7d04ff" fill-opacity="0.91"/>
<rect x="214" y="208" width="1" height="2" fill="#7c03fe" fill-opacity="0.77"/>
<rect x="231" y="530" width="2" height="2" fill="#7a03fd" fill-opacity="0.56"/>
<rect x="222" y="524" width="1" height="2" fill="#7903fc" fill-opacity="0.82"/>
<rect x="226" y="465" width="1" height="2" fill="#7c03fe" fill-opacity="0.74"/>
<rect x="207" y="254" width="2" height="2" fill="#7703f9" fill-opacity="0.64"/>
<rect x="225" y="103" width="2" height="2" fill="#7602f8" fill-opacity="0.72"/>
<rect x="217" y="90" width="2" height="2" fill="#7803fb" fill-opacity="0.73"/>
<rect x="204" y="274" width="1" height="2" fill="#8004ff" fill-opacity="0.75"/>
<rect x="207" y="364" width="2" height="2" fill="#7e04ff" fill-opacity="0.74"/>
<rect x="204" y="66" width="1" height="2" fill="#7e04ff" fill-opacity="0.92"/>
<rect x="216" y="364" width="2" height="2" fill="#7b03fe" fill-opacity="0.82"/>
<rect x="209" y="80" width="1" height="2" fill="#7703fa" fill-opacity="0.79"/>
<rect x="208" y="119" width="2" height="2" fill="#7b03fd" fill-opacity="0.88"/>
<rect x="204" y="453" width="1" height="2" fill="#7903fc" fill-opacity="0.78"/>
<rect x="223" y="329" width="2" height="2" fill="#8004ff" fill-opacity="0.72"/>
<rect x="207" y="331" width="2" height="2" fill="#8004ff" fill-opacity="0.81"/>
<rect x="204" y="215" width="2" height="2" fill="#7c03fe" fill-opacity="0.59"/>
<rect x="215" y="380" width="1" height="2" fill="#7b03fe" fill-opacity="0.72"/>
<rect x="205" y="394" width="2" height="2" fill="#8104ff" fill-opacity="0.93"/>
<rect x="212" y="59" width="1" height="2" fill="#7e04ff" fill-opacity="0.51"/>
<rect x="210" y="141" width="2" height="2" fill="#8004ff" fill-opacity="0.82"/>
<rect x="204" y="310" width="1" height="2" fill="#7903fc" fill-opacity="0.64"/>
<rect x="213" y="135" width="2" height="2" fill="#7a03fd" fill-opacity="0.57"/>
<rect x="208" y="279" width="2" height="2" fill="#7e04ff" fill-opacity="0.72"/>
<rect x="212" y="358" width="2" height="2" fill="#7c03fe" fill-opacity="0.81"/>
<rect x="204" y="248" width="2" height="2" fill="#7c03fe" fill-opacity="0.86"/>
<rect x="217" y="296" width="2" height="2" fill="#7a03fd" fill-opacity="0.65"/>
<rect x="215" y="209" width="1" height="2" fill="#7e04ff" fill-opacity="0.54"/>
<rect x="231" y="419" width="2" height="2" fill="#7703fa" fill-opacity="0.61"/>
<rect x="215" y="511" width="2" height="2" fill="#7603f9" fill-opacity="0.53"/>
<rect x="205" y="358" width="2" height="2" fill="#7803fb" fill-opacity="0.94"/>
<rect x="216" y="299" width="1" height="2" fill="#7d04ff" fill-opacity="0.95"/>
<rect x="215" y="472" width="2" height="2" fill="#7903fc" fill-opacity="0.83"/>
<rect x="208" y="497" width="2" height="2" fill="#7c03fe" fill-opacity="0.81"/>
<rect x="207" y="288" width="2" height="2" fill="#7b03fd" fill-opacity="0.70"/>
<rect x="218" y="342" width="2" height="2" fill="#7c03fe" fill-opacity="0.78"/>
<rect x="226" y="288" width="2" height="2" fill="#7b03fd" fill-opacity="0.55"/>
<rect x="217" y="240" width="2" height="2" fill="#7f04ff" fill-opacity="0.83"/>
<rect x="207" y="430" width="2" height="2" fill="#7a03fd" fill-opacity="0.74"/>
<rect x="225" y="470" width="1" height="2" fill="#7703f9" fill-opacity="0.84"/>
<rect x="207" y="164" width="2" height="2" fill="#7502f8" fill-opacity="0.82"/>
<rect x="205" y="80" width="1" height="2" fill="#7602f8" fill-opacity="0.60"/>
<rect x="220" y="157" width="2" height="2" fill="#7e04ff" fill-opacity="0.58"/>
<rect x="211" y="226" width="2" height="2" fill="#7903fc" fill-opacity="0.91"/>
<rect x="210" y="67" width="2" height="2" fill="#7603f9" fill-opacity="0.76"/>
<rect x="204" y="472" width="1" height="2" fill="#7f04ff" fill-opacity="0.68"/>
<rect x="226" y="425" width="2" height="2" fill="#7903fc" fill-opacity="0.82"/>
<rect x="217" y="369" width="2" height="2" fill="#7b03fd" fill-opacity="0.72"/>
<rect x="217" y="180" width="2" height="2" fill="#7603f9" fill-opacity="0.55"/>
<rect x="230" y="510" width="2" height="2" fill="#8004ff" fill-opacity="0.67"/>
<rect x="229" y="393" width="1" height="2" fill="#7a03fc" fill-opacity="0.66"/>
<rect x="213" y="187" width="2" height="2" fill="#8004ff" fill-opacity="0.90"/>
<rect x="230" y="185" width="1" height="2" fill="#7c03fe" fill-opacity="0.60"/>
<rect x="212" y="491" width="2" height="2" fill="#7603f9" fill-opacity="0.80"/>
<rect x="205" y="98" width="1" height="2" fill="#7703f9" fill-opacity="0.67"/>
<rect x="212" y="164" width="1" height="2" fill="#7602f8" fill-opacity="0.56"/>
<rect x="210" y="325" width="1" height="2" fill="#7f04ff" fill-opacity="0.50"/>
<rect x="213" y="149" width="2" height="2" fill="#7b03fe" fill-opacity="0.86"/>
<rect x="208" y="396" width="2" height="2" fill="#7502f8" fill-opacity="0.53"/>
<rect x="204" y="527" width="2" height="2" fill="#7703fa" fill-opacity="0.56"/>
<rect x="222" y="333" width="1" height="2" fill="#7903fc" fill-opacity="0.61"/>
<rect x="210" y="264" width="1" height="2" fill="#7f04ff" fill-opacity="0.54"/>
<rect x="219" y="59" width="2" height="2" fill="#7d04ff" fill-opacity="0.64"/>
<rect x="214" y="125" width="2" height="2" fill="#7f04ff" fill-opacity="0.89"/>
<rect x="210" y="500" width="2" height="2" fill="#7b03fd" fill-opacity="0.69"/>
<rect x="228" y="152" width="1" height="2" fill="#8004ff" fill-opacity="0.63"/>
<rect x="204" y="163" width="2" height="2" fill="#8104ff" fill-opacity="0.85"/>
<rect x="209" y="321" width="2" height="2" fill="#7602f8" fill-opacity="0.51"/>
<rect x="209" y="467" width="2" height="2" fill="#7502f8" fill-opacity="0.54"/>
<rect x="203" y="101" width="1" height="2" fill="#7603f9" fill-opacity="0.51"/>
<rect x="228" y="187" width="2" height="2" fill="#7e04ff" fill-opacity="0.58"/>
<rect x="214" y="81" width="1" height="2" fill="#7b03fd" fill-opacity="0.73"/>
<rect x="212" y="95" width="1" height="2" fill="#7d04ff" fill-opacity="0.80"/>
<rect x="212" y="79" width="1" height="2" fill="#7d04ff" fill-opacity="0.52"/>
<rect x="219" y="414" width="1" height="2" fill="#7c03fe" fill-opacity="0.55"/>
<rect x="228" y="256" width="1" height="2" fill="#7703f9" fill-opacity="0.57"/>
<rect x="226" y="434" width="1" height="2" fill="#7803fb" fill-opacity="0.58"/>
<rect x="215" y="96" width="2" height="2" fill="#7603f9" fill-opacity="0.61"/>
<rect x="227" y="423" width="2" height="2" fill="#7502f8" fill-opacity="0.78"/>
<rect x="223" y="274" width="2" height="2" fill="#7e04ff" fill-opacity="0.94"/>
<rect x="218" y="121" width="2" height="2" fill="#8104ff" fill-opacity="0.74"/>
<rect x="230" y="415" width="1" height="2" fill="#7f04ff" fill-opacity="0.77"/>
<rect x="206" y="123" width="2" height="2" fill="#7603f9" fill-opacity="0.77"/>
<rect x="229" y="309" width="2" height="2" fill="#7c03fe" fill-opacity="0.84"/>
<rect x="211" y="67" width="2" height="2" fill="#7703fa" fill-opacity="0.66"/>
<rect x="229" y="84" width="2" height="2" fill="#7803fa" fill-opacity="0.73"/>
<rect x="210" y="122" width="1" height="2" fill="#7d03fe" fill-opacity="0.72"/>
<rect x="219" y="279" width="1" height="2" fill="#7903fc" fill-opacity="0.80"/>
<rect x="209" y="191" width="1" height="2" fill="#7c03fe" fill-opacity="0.77"/>
<rect x="224" y="288" width="2" height="2" fill="#7703f9" fill-opacity="0.63"/>
<rect x="210" y="506" width="1" height="2" fill="#7803fb" fill-opacity="0.78"/>
<rect x="225" y="306" width="2" height="2" fill="#7502f8" fill-opacity="0.66"/>
<rect x="225" y="239" width="1" height="2" fill="#7d03fe" fill-opacity="0.62"/>
<rect x="206" y="243" width="2" height="2" fill="#7f04ff" fill-opacity="0.77"/>
<rect x="219" y="151" width="1" height="2" fill="#7f04ff" fill-opacity="0.55"/>
<rect x="206" y="476" width="2" height="2" fill="#7d04ff" fill-opacity="0.92"/>
<rect x="215" y="336" width="2" height="2" fill="#7e04ff" fill-opacity="0.95"/>
<rect x="221" y="275" width="2" height="2" fill="#7c03fe" fill-opacity="0.61"/>
<rect x="212" y="386" width="1" height="2" fill="#7d04fe" fill-opacity="0.55"/>
<rect x="208" y="175" width="2" height="2" fill="#8004ff" fill-opacity="0.59"/>
<rect x="210" y="285" width="1" height="2" fill="#7903fc" fill-opacity="0.67"/>
<rect x="222" y="457" width="2" height="2" fill="#7602f8" fill-opacity="0.59"/>
<rect x="206" y="240" width="2" height="2" fill="#7a03fd" fill-opacity="0.78"/>
<rect x="209" y="262" width="2" height="2" fill="#7f04ff" fill-opacity="0.54"/>
<rect x="205" y="216" width="2" height="2" fill="#7703fa" fill-opacity="0.87"/>
<rect x="230" y="92" width="1" height="2" fill="#7b03fe" fill-opacity="0.71"/>
<rect x="228" y="435" width="2" height="2" fill="#7c03fe" fill-opacity="0.90"/>
<rect x="221" y="406" width="2" height="2" fill="#7703fa" fill-opacity="0.60"/>
<rect x="215" y="287" width="2" height="2" fill="#7d04ff" fill-opacity="0.66"/>
<rect x="221" y="81" width="2" height="2" fill="#7b03fe" fill-opacity="0.74"/>
<rect x="216" y="475" width="2" height="2" fill="#7602f8" fill-opacity="0.60"/>
<rect x="206" y="339" width="2" height="2" fill="#7a03fd" fill-opacity="0.51"/>
<rect x="210" y="177" width="2" height="2" fill="#7a03fd" fill-opacity="0.56"/>
<rect x="210" y="241" width="2" height="2" fill="#7d04ff" fill-opacity="0.81"/>
<rect x="220" y="330" width="2" height="2" fill="#7602f8" fill-opacity="0.59"/>
<rect x="219" y="488" width="2" height="2" fill="#7703fa" fill-opacity="0.90"/>
<rect x="219" y="151" width="2" height="2" fill="#7703f9" fill-opacity="0.71"/>
<rect x="216" y="355" width="2" height="2" fill="#8004ff" fill-opacity="0.80"/>
<rect x="208" y="533" width="1" height="2" fill="#7f04ff" fill-opacity="0.94"/>
<rect x="218" y="307" width="2" height="2" fill="#7903fc" fill-opacity="0.87"/>
<rect x="216" y="463" width="2" height="2" fill="#7602f8" fill-opacity="0.58"/>
<rect x="228" y="495" width="2" height="2" fill="#7903fc" fill-opacity="0.59"/>
<rect x="211" y="286" width="2" height="2" fill="#7c03fe" fill-opacity="0.68"/>
<rect x="209" y="472" width="2" height="2" fill="#7c03fe" fill-opacity="0.60"/>
<rect x="224" y="284" width="1" height="2" fill="#7b03fd" fill-opacity="0.55"/>
<rect x="232" y="344" width="2" height="2" fill="#8104ff" fill-opacity="0.94"/>
<rect x="205" y="309" width="2" height="2" fill="#7803fb" fill-opacity="0.60"/>
<rect x="229" y="401" width="2" height="2" fill="#7703fa" fill-opacity="0.62"/>
<rect x="213" y="442" width="2" height="2" fill="#7b03fd" fill-opacity="0.89"/>
<rect x="212" y="304" width="2" height="2" fill="#8004ff" fill-opacity="0.86"/>
<rect x="223" y="166" width="1" height="2" fill="#7903fc" fill-opacity="0.50"/>
<rect x="223" y="264" width="1" height="2" fill="#7903fc" fill-opacity="0.70"/>
<rect x="227" y="429" width="2" height="2" fill="#8004ff" fill-opacity="0.67"/>
<rect x="210" y="401" width="2" height="2" fill="#7c03fe" fill-opacity="0.57"/>
<rect x="229" y="420" width="1" height="2" fill="#7c03fe" fill-opacity="0.68"/>
<rect x="212" y="503" width="2" height="2" fill="#7703fa" fill-opacity="0.54"/>
<rect x="222" y="195" width="2" height="2" fill="#7603f9" fill-opacity="0.89"/>
<rect x="218" y="202" width="1" height="2" fill="#8004ff" fill-opacity="0.71"/>
<rect x="207" y="123" width="2" height="2" fill="#7d04ff" fill-opacity="0.65"/>
<rect x="218" y="478" width="2" height="2" fill="#7603f9" fill-opacity="0.90"/>
<rect x="232" y="421" width="2" height="2" fill="#7703fa" fill-opacity="0.79"/>
<rect x="219" y="187" width="2" height="2" fill="#7f04ff" fill-opacity="0.55"/>
<rect x="203" y="346" width="1" height="2" fill="#8004ff" fill-opacity="0.65"/>
<rect x="216" y="162" width="2" height="2" fill="#7d04fe" fill-opacity="0.87"/>
<rect x="223" y="142" width="2" height="2" fill="#7c03fe" fill-opacity="0.64"/>
<rect x="226" y="470" width="1" height="2" fill="#8004ff" fill-opacity="0.52"/>
<rect x="214" y="478" width="2" height="2" fill="#7903fc" fill-opacity="0.54"/>
<rect x="207" y="83" width="2" height="2" fill="#7f04ff" fill-opacity="0.76"/>
<rect x="220" y="152" width="1" height="2" fill="#7e04ff" fill-opacity="0.93"/>
<rect x="209" y="336" width="2" height="2" fill="#7f04ff" fill-opacity="0.65"/>
<rect x="231" y="271" width="2" height="2" fill="#7a03fc" fill-opacity="0.74"/>
<rect x="226" y="177" width="2" height="2" fill="#7803fb" fill-opacity="0.80"/>
<rect x="229" y="110" width="1" height="2" fill="#7502f7" fill-opacity="0.54"/>
<rect x="221" y="346" width="2" height="2" fill="#7a03fd" fill-opacity="0.60"/>
<rect x="219" y="101" width="2" height="2" fill="#7e04ff" fill-opacity="0.61"/>
<rect x="216" y="334" width="1" height="2" fill="#7803fb" fill-opacity="0.59"/>
<rect x="212" y="276" width="2" height="2" fill="#7903fc" fill-opacity="0.88"/>
<rect x="226" y="348" width="1" height="2" fill="#7e04ff" fill-opacity="0.81"/>
<rect x="219" y="236" width="2" height="2" fill="#7e04ff" fill-opacity="0.75"/>
<rect x="228" y="512" width="2" height="2" fill="#7b03fe" fill-opacity="0.64"/>
<rect x="212" y="155" width="1" height="2" fill="#7903fc" fill-opacity="0.63"/>
<rect x="212" y="262" width="2" height="2" fill="#7803fa" fill-opacity="0.70"/>
<rect x="227" y="117" width="1" height="2" fill="#7a03fd" fill-opacity="0.94"/>
<rect x="220" y="169" width="1" height="2" fill="#7c03fe" fill-opacity="0.76"/>
<rect x="223" y="347" width="1" height="2" fill="#7603f9" fill-opacity="0.64"/>
<rect x="218" y="340" width="1" height="2" fill="#7d04ff" fill-opacity="0.82"/>
<rect x="213" y="450" width="1" height="2" fill="#7603f9" fill-opacity="0.71"/>
<rect x="229" y="156" width="1" height="2" fill="#7d04ff" fill-opacity="0.50"/>
<rect x="219" y="467" width="2" height="2" fill="#7803fb" fill-opacity="0.95"/>
<rect x="207" y="147" width="1" height="2" fill="#7a03fc" fill-opacity="0.62"/>
<rect x="205" y="311" width="2" height="2" fill="#7903fc" fill-opacity="0.91"/>
<rect x="229" y="355" width="2" height="2" fill="#7903fc" fill-opacity="0.62"/>
<rect x="218" y="331" width="2" height="2" fill="#7603f9" fill-opacity="0.78"/>
<rect x="217" y="324" width="1" height="2" fill="#7f04ff" fill-opacity="0.56"/>
<rect x="227" y="264" width="2" height="2" fill="#7603f9" fill-opacity="0.58"/>
<rect x="217" y="211" width="2" height="2" fill="#7e04ff" fill-opacity="0.90"/>
<rect x="208" y="288" width="1" height="2" fill="#7f04ff" fill-opacity="0.76"/>
<rect x="232" y="293" width="2" height="2" fill="#7703fa" fill-opacity="0.90"/>
<rect x="219" y="115" width="2" height="2" fill="#8004ff" fill-opacity="0.52"/>
<rect x="231" y="334" width="1" height="2" fill="#7a03fd" fill-opacity="0.87"/>
<rect x="220" y="371" width="1" height="2" fill="#7c03fe" fill-opacity="0.57"/>
<rect x="226" y="262" width="1" height="2" fill="#7f04ff" fill-opacity="0.80"/>
<rect x="226" y="59" width="2" height="2" fill="#7602f8" fill-opacity="0.53"/>
<rect x="214" y="74" width="2" height="2" fill="#7603f9" fill-opacity="0.60"/>
<rect x="229" y="363" width="2" height="2" fill="#7b03fe" fill-opacity="0.63"/>
<rect x="220" y="303" width="2" height="2" fill="#7502f8" fill-opacity="0.65"/>
<rect x="222" y="229" width="2" height="2" fill="#7d04ff" fill-opacity="0.50"/>
<rect x="217" y="380" width="1" height="2" fill="#7b03fd" fill-opacity="0.55"/>
<rect x="214" y="441" width="2" height="2" fill="#7603f9" fill-opacity="0.85"/>
<rect x="226" y="277" width="1" height="2" fill="#8104ff" fill-opacity="0.66"/>
<rect x="212" y="139" width="1" height="2" fill="#7c03fe" fill-opacity="0.67"/>
<rect x="205" y="505" width="2" height="2" fill="#8004ff" fill-opacity="0.75"/>
<rect x="206" y="310" width="2" height="2" fill="#7d03fe" fill-opacity="0.77"/>
<rect x="230" y="132" width="2" height="2" fill="#7903fc" fill-opacity="0.84"/>
<rect x="205" y="123" width="2" height="2" fill="#7a03fd" fill-opacity="0.62"/>
<rect x="209" y="319" width="2" height="2" fill="#7b03fd" fill-opacity="0.83"/>
<rect x="230" y="120" width="1" height="2" fill="#7a03fd" fill-opacity="0.82"/>
<rect x="204" y="324" width="1" height="2" fill="#7c03fe" fill-opacity="0.68"/>
<rect x="208" y="122" width="2" height="2" fill="#7b03fe" fill-opacity="0.73"/>
<rect x="223" y="175" width="2" height="2" fill="#7f04ff" fill-opacity="0.55"/>
<rect x="210" y="457" width="1" height="2" fill="#7c03fe" fill-opacity="0.77"/>
<rect x="217" y="300" width="2" height="2" fill="#7502f8" fill-opacity="0.86"/>
<rect x="226" y="158" width="1" height="2" fill="#7703f9" fill-opacity="0.58"/>
<rect x="247" y="63" width="1" height="2" fill="#7703fa" fill-opacity="0.48"/>
<rect x="238" y="425" width="1" height="2" fill="#7903fc" fill-opacity="0.78"/>
<rect x="253" y="148" width="2" height="2" fill="#7703fa" fill-opacity="0.57"/>
<rect x="247" y="434" width="1" height="2" fill="#7b03fe" fill-opacity="0.76"/>
<rect x="257" y="122" width="1" height="2" fill="#7b03fe" fill-opacity="0.60"/>
<rect x="255" y="474" width="2" height="2" fill="#7603f9" fill-opacity="0.50"/>
<rect x="240" y="364" width="1" height="2" fill="#7a03fd" fill-opacity="0.69"/>
<rect x="256" y="248" width="1" height="2" fill="#7903fc" fill-opacity="0.48"/>
<rect x="246" y="111" width="2" height="2" fill="#7e04ff" fill-opacity="0.43"/>
<rect x="243" y="327" width="2" height="2" fill="#7903fc" fill-opacity="0.43"/>
<rect x="237" y="212" width="2" height="2" fill="#7903fc" fill-opacity="0.49"/>
<rect x="253" y="465" width="2" height="2" fill="#7903fc" fill-opacity="0.44"/>
<rect x="257" y="92" width="1" height="2" fill="#7602f8" fill-opacity="0.67"/>
<rect x="236" y="392" width="2" height="2" fill="#7d04fe" fill-opacity="0.76"/>
<rect x="242" y="132" width="1" height="2" fill="#7703fa" fill-opacity="0.42"/>
<rect x="246" y="481" width="2" height="2" fill="#7703f9" fill-opacity="0.66"/>
<rect x="246" y="330" width="2" height="2" fill="#7b03fe" fill-opacity="0.66"/>
<rect x="241" y="94" width="1" height="2" fill="#7703fa" fill-opacity="0.58"/>
<rect x="245" y="405" width="2" height="2" fill="#7502f8" fill-opacity="0.79"/>
<rect x="244" y="243" width="2" height="2" fill="#7d03fe" fill-opacity="0.78"/>
<rect x="253" y="420" width="2" height="2" fill="#7703fa" fill-opacity="0.57"/>
<rect x="232" y="439" width="2" height="2" fill="#7b03fd" fill-opacity="0.56"/>
<rect x="236" y="153" width="2" height="2" fill="#7602f8" fill-opacity="0.57"/>
<rect x="259" y="526" width="1" height="2" fill="#7a03fd" fill-opacity="0.54"/>
<rect x="246" y="401" width="1" height="2" fill="#7502f8" fill-opacity="0.66"/>
<rect x="249" y="455" width="1" height="2" fill="#7903fc" fill-opacity="0.72"/>
<rect x="234" y="184" width="1" height="2" fill="#7d03fe" fill-opacity="0.76"/>
<rect x="262" y="186" width="2" height="2" fill="#7903fc" fill-opacity="0.58"/>
<rect x="250" y="424" width="1" height="2" fill="#7903fc" fill-opacity="0.40"/>
<rect x="236" y="410" width="1" height="2" fill="#7d04fe" fill-opacity="0.60"/>
<rect x="235" y="85" width="1" height="2" fill="#7a03fd" fill-opacity="0.64"/>
<rect x="261" y="363" width="1" height="2" fill="#7602f8" fill-opacity="0.75"/>
<rect x="241" y="323" width="1" height="2" fill="#7d04ff" fill-opacity="0.74"/>
<rect x="241" y="141" width="1" height="2" fill="#7803fa" fill-opacity="0.73"/>
<rect x="260" y="74" width="1" height="2" fill="#7c03fe" fill-opacity="0.61"/>
<rect x="236" y="230" width="1" height="2" fill="#7b03fe" fill-opacity="0.44"/>
<rect x="233" y="114" width="2" height="2" fill="#7502f8" fill-opacity="0.43"/>
<rect x="235" y="82" width="1" height="2" fill="#7d03fe" fill-opacity="0.59"/>
<rect x="239" y="379" width="2" height="2" fill="#7703fa" fill-opacity="0.62"/>
<rect x="232" y="306" width="1" height="2" fill="#7e04ff" fill-opacity="0.75"/>
<rect x="246" y="526" width="2" height="2" fill="#7a03fd" fill-opacity="0.77"/>
<rect x="251" y="363" width="2" height="2" fill="#7a03fd" fill-opacity="0.76"/>
<rect x="255" y="223" width="2" height="2" fill="#7d04fe" fill-opacity="0.70"/>
<rect x="235" y="303" width="2" height="2" fill="#7603f9" fill-opacity="0.73"/>
<rect x="237" y="307" width="2" height="2" fill="#7c03fe" fill-opacity="0.66"/>
<rect x="250" y="481" width="1" height="2" fill="#7703fa" fill-opacity="0.66"/>
<rect x="250" y="379" width="1" height="2" fill="#7a03fd" fill-opacity="0.66"/>
<rect x="248" y="365" width="2" height="2" fill="#7d04fe" fill-opacity="0.59"/>
<rect x="247" y="217" width="2" height="2" fill="#7d03fe" fill-opacity="0.57"/>
<rect x="245" y="220" width="2" height="2" fill="#7b03fd" fill-opacity="0.75"/>
<rect x="239" y="439" width="2" height="2" fill="#7602f8" fill-opacity="0.51"/>
<rect x="257" y="268" width="1" height="2" fill="#7903fc" fill-opacity="0.57"/>
<rect x="239" y="289" width="2" height="2" fill="#7903fb" fill-opacity="0.56"/>
<rect x="245" y="522" width="2" height="2" fill="#7d04fe" fill-opacity="0.68"/>
<rect x="260" y="151" width="1" height="2" fill="#7e04ff" fill-opacity="0.72"/>
<rect x="258" y="239" width="2" height="2" fill="#7b03fd" fill-opacity="0.68"/>
<rect x="246" y="115" width="1" height="2" fill="#7a03fd" fill-opacity="0.52"/>
<rect x="250" y="254" width="2" height="2" fill="#7b03fd" fill-opacity="0.70"/>
<rect x="253" y="308" width="2" height="2" fill="#7603f9" fill-opacity="0.63"/>
<rect x="240" y="340" width="1" height="2" fill="#7803fb" fill-opacity="0.50"/>
<rect x="242" y="70" width="1" height="2" fill="#7c03fe" fill-opacity="0.56"/>
<rect x="261" y="471" width="2" height="2" fill="#7e04ff" fill-opacity="0.58"/>
<rect x="249" y="306" width="1" height="2" fill="#7602f8" fill-opacity="0.71"/>
<rect x="258" y="209" width="1" height="2" fill="#7502f7" fill-opacity="0.53"/>
<rect x="234" y="208" width="1" height="2" fill="#7803fb" fill-opacity="0.61"/>
<rect x="250" y="142" width="1" height="2" fill="#7a03fd" fill-opacity="0.47"/>
<rect x="237" y="242" width="1" height="2" fill="#7703fa" fill-opacity="0.77"/>
<rect x="247" y="129" width="2" height="2" fill="#7a03fd" fill-opacity="0.74"/>
<rect x="253" y="304" width="2" height="2" fill="#7903fc" fill-opacity="0.78"/>
<rect x="238" y="128" width="1" height="2" fill="#7703fa" fill-opacity="0.64"/>
<rect x="243" y="466" width="2" height="2" fill="#7e04ff" fill-opacity="0.69"/>
<rect x="237" y="169" width="2" height="2" fill="#7903fc" fill-opacity="0.53"/>
<rect x="260" y="177" width="2" height="2" fill="#7c03fe" fill-opacity="0.77"/>
<rect x="251" y="398" width="2" height="2" fill="#7c03fe" fill-opacity="0.78"/>
<rect x="246" y="385" width="2" height="2" fill="#7d04ff" fill-opacity="0.41"/>
<rect x="238" y="103" width="1" height="2" fill="#7703f9" fill-opacity="0.61"/>
<rect x="238" y="184" width="2" height="2" fill="#7c03fe" fill-opacity="0.53"/>
<rect x="247" y="186" width="2" height="2" fill="#7e04ff" fill-opacity="0.66"/>
<rect x="252" y="130" width="1" height="2" fill="#7d04fe" fill-opacity="0.51"/>
<rect x="245" y="490" width="2" height="2" fill="#7b03fd" fill-opacity="0.72"/>
<rect x="252" y="171" width="2" height="2" fill="#7c03fe" fill-opacity="0.62"/>
<rect x="241" y="522" width="2" height="2" fill="#7602f8" fill-opacity="0.68"/>
<rect x="255" y="73" width="1" height="2" fill="#7602f8" fill-opacity="0.40"/>
<rect x="233" y="108" width="1" height="2" fill="#7903fc" fill-opacity="0.64"/>
<rect x="252" y="91" width="1" height="2" fill="#7603f9" fill-opacity="0.58"/>
<rect x="257" y="315" width="2" height="2" fill="#7d04ff" fill-opacity="0.71"/>
<rect x="257" y="217" width="2" height="2" fill="#7b03fe" fill-opacity="0.57"/>
<rect x="241" y="78" width="1" height="2" fill="#7d04ff" fill-opacity="0.51"/>
<rect x="244" y="457" width="1" height="2" fill="#7c03fe" fill-opacity="0.65"/>
<rect x="257" y="344" width="1" height="2" fill="#7c03fe" fill-opacity="0.62"/>
<rect x="253" y="93" width="1" height="2" fill="#7b03fe" fill-opacity="0.61"/>
<rect x="249" y="215" width="2" height="2" fill="#7803fb" fill-opacity="0.45"/>
<rect x="252" y="418" width="1" height="2" fill="#7d03fe" fill-opacity="0.73"/>
<rect x="234" y="347" width="2" height="2" fill="#7b03fd" fill-opacity="0.68"/>
<rect x="255" y="466" width="2" height="2" fill="#7e04ff" fill-opacity="0.67"/>
<rect x="238" y="375" width="1" height="2" fill="#7d04ff" fill-opacity="0.52"/>
<rect x="262" y="385" width="1" height="2" fill="#7d03fe" fill-opacity="0.47"/>
<rect x="255" y="253" width="1" height="2" fill="#7803fb" fill-opacity="0.60"/>
<rect x="256" y="374" width="1" height="2" fill="#7b03fe" fill-opacity="0.68"/>
<rect x="244" y="450" width="2" height="2" fill="#7703fa" fill-opacity="0.73"/>
<rect x="236" y="510" width="2" height="2" fill="#7d04fe" fill-opacity="0.73"/>
<rect x="257" y="396" width="2" height="2" fill="#7703f9" fill-opacity="0.65"/>
<rect x="236" y="265" width="1" height="2" fill="#7c03fe" fill-opacity="0.69"/>
<rect x="251" y="474" width="1" height="2" fill="#7602f8" fill-opacity="0.53"/>
<rect x="239" y="179" width="1" height="2" fill="#7703fa" fill-opacity="0.66"/>
<rect x="240" y="103" width="1" height="2" fill="#7602f8" fill-opacity="0.74"/>
<rect x="249" y="324" width="2" height="2" fill="#7d04ff" fill-opacity="0.43"/>
<rect x="261" y="437" width="1" height="2" fill="#7e04ff" fill-opacity="0.66"/>
<rect x="250" y="250" width="2" height="2" fill="#7703fa" fill-opacity="0.44"/>
<rect x="232" y="232" width="1" height="2" fill="#7602f8" fill-opacity="0.58"/>
<rect x="246" y="517" width="1" height="2" fill="#7803fb" fill-opacity="0.67"/>
<rect x="238" y="435" width="2" height="2" fill="#7703fa" fill-opacity="0.59"/>
<rect x="253" y="374" width="1" height="2" fill="#7b03fe" fill-opacity="0.70"/>
<rect x="257" y="353" width="2" height="2" fill="#7a03fd" fill-opacity="0.79"/>
<rect x="240" y="246" width="1" height="2" fill="#7b03fd" fill-opacity="0.62"/>
<rect x="238" y="117" width="1" height="2" fill="#7703fa" fill-opacity="0.68"/>
<rect x="252" y="267" width="1" height="2" fill="#7d04ff" fill-opacity="0.43"/>
<rect x="254" y="345" width="2" height="2" fill="#7b03fe" fill-opacity="0.72"/>
<rect x="249" y="511" width="1" height="2" fill="#7803fb" fill-opacity="0.51"/>
<rect x="233" y="360" width="2" height="2" fill="#7c03fe" fill-opacity="0.46"/>
<rect x="246" y="268" width="2" height="2" fill="#7602f8" fill-opacity="0.51"/>
<rect x="256" y="372" width="2" height="2" fill="#7b03fe" fill-opacity="0.69"/>
<rect x="255" y="257" width="2" height="2" fill="#7b03fe" fill-opacity="0.76"/>
<rect x="258" y="273" width="2" height="2" fill="#7a03fd" fill-opacity="0.43"/>
<rect x="242" y="444" width="2" height="2" fill="#7703fa" fill-opacity="0.66"/>
<rect x="246" y="120" width="1" height="2" fill="#7b03fd" fill-opacity="0.61"/>
<rect x="237" y="177" width="2" height="2" fill="#7a03fd" fill-opacity="0.40"/>
<rect x="234" y="520" width="2" height="2" fill="#7c03fe" fill-opacity="0.45"/>
<rect x="259" y="89" width="2" height="2" fill="#7a03fd" fill-opacity="0.76"/>
<rect x="260" y="313" width="2" height="2" fill="#7603f9" fill-opacity="0.43"/>
<rect x="241" y="457" width="1" height="2" fill="#7b03fd" fill-opacity="0.67"/>
<rect x="247" y="463" width="1" height="2" fill="#7803fb" fill-opacity="0.71"/>
<rect x="248" y="271" width="2" height="2" fill="#7803fb" fill-opacity="0.74"/>
<rect x="233" y="504" width="1" height="2" fill="#7603f9" fill-opacity="0.75"/>
<rect x="256" y="500" width="2" height="2" fill="#7602f8" fill-opacity="0.41"/>
<rect x="248" y="242" width="1" height="2" fill="#7a03fd" fill-opacity="0.78"/>
<rect x="237" y="63" width="2" height="2" fill="#7803fb" fill-opacity="0.80"/>
<rect x="252" y="505" width="2" height="2" fill="#7d04ff" fill-opacity="0.41"/>
<rect x="244" y="403" width="1" height="2" fill="#7c03fe" fill-opacity="0.72"/>
<rect x="242" y="211" width="1" height="2" fill="#7502f8" fill-opacity="0.73"/>
<rect x="247" y="433" width="2" height="2" fill="#7703fa" fill-opacity="0.48"/>
<rect x="240" y="260" width="2" height="2" fill="#7d03fe" fill-opacity="0.72"/>
<rect x="261" y="383" width="2" height="2" fill="#7e04ff" fill-opacity="0.64"/>
<rect x="246" y="434" width="1" height="2" fill="#7c03fe" fill-opacity="0.77"/>
<rect x="246" y="112" width="1" height="2" fill="#7602f8" fill-opacity="0.60"/>
<rect x="253" y="384" width="2" height="2" fill="#7803fb" fill-opacity="0.61"/>
<rect x="256" y="470" width="1" height="2" fill="#7d04ff" fill-opacity="0.74"/>
<rect x="258" y="226" width="2" height="2" fill="#7903fc" fill-opacity="0.61"/>
<rect x="251" y="206" width="1" height="2" fill="#7a03fc" fill-opacity="0.80"/>
<rect x="248" y="481" width="1" height="2" fill="#7e04ff" fill-opacity="0.58"/>
<rect x="257" y="237" width="2" height="2" fill="#7b03fe" fill-opacity="0.75"/>
<rect x="234" y="408" width="2" height="2" fill="#7a03fd" fill-opacity="0.42"/>
<rect x="244" y="255" width="2" height="2" fill="#7903fc" fill-opacity="0.52"/>
<rect x="241" y="274" width="1" height="2" fill="#7b03fe" fill-opacity="0.45"/>
<rect x="236" y="177" width="1" height="2" fill="#7a03fd" fill-opacity="0.56"/>
<rect x="255" y="264" width="2" height="2" fill="#7803fb" fill-opacity="0.45"/>
<rect x="259" y="285" width="1" height="2" fill="#7b03fe" fill-opacity="0.77"/>
<rect x="232" y="528" width="2" height="2" fill="#7603f9" fill-opacity="0.64"/>
<rect x="235" y="347" width="2" height="2" fill="#7b03fe" fill-opacity="0.79"/>
<rect x="249" y="470" width="1" height="2" fill="#7b03fe" fill-opacity="0.63"/>
<rect x="192" y="155" width="1" height="2" fill="#7b03fe" fill-opacity="0.58"/>
<rect x="179" y="156" width="1" height="2" fill="#7703fa" fill-opacity="0.57"/>
<rect x="114" y="516" width="1" height="2" fill="#7602f8" fill-opacity="0.67"/>
<rect x="165" y="262" width="1" height="2" fill="#7e04ff" fill-opacity="0.78"/>
<rect x="162" y="238" width="1" height="2" fill="#7803fb" fill-opacity="0.51"/>
<rect x="182" y="463" width="1" height="2" fill="#7c03fe" fill-opacity="0.54"/>
<rect x="174" y="318" width="1" height="2" fill="#7703fa" fill-opacity="0.51"/>
<rect x="180" y="253" width="1" height="2" fill="#7c03fe" fill-opacity="0.65"/>
<rect x="193" y="327" width="1" height="2" fill="#7a03fd" fill-opacity="0.64"/>
<rect x="175" y="153" width="1" height="2" fill="#7e04ff" fill-opacity="0.64"/>
<rect x="154" y="171" width="1" height="2" fill="#7803fb" fill-opacity="0.67"/>
<rect x="107" y="281" width="1" height="2" fill="#7903fc" fill-opacity="0.80"/>
<rect x="140" y="527" width="1" height="2" fill="#7903fc" fill-opacity="0.47"/>
<rect x="160" y="173" width="1" height="2" fill="#7803fb" fill-opacity="0.67"/>
<rect x="171" y="352" width="1" height="2" fill="#7803fb" fill-opacity="0.47"/>
<rect x="120" y="110" width="1" height="2" fill="#7e04ff" fill-opacity="0.54"/>
<rect x="142" y="131" width="1" height="2" fill="#7d04fe" fill-opacity="0.45"/>
<rect x="163" y="122" width="1" height="2" fill="#7c03fe" fill-opacity="0.78"/>
<rect x="165" y="123" width="1" height="2" fill="#7803fb" fill-opacity="0.78"/>
<rect x="131" y="104" width="1" height="2" fill="#7b03fd" fill-opacity="0.50"/>
<rect x="194" y="377" width="1" height="2" fill="#7e04ff" fill-opacity="0.58"/>
<rect x="196" y="201" width="1" height="2" fill="#7803fb" fill-opacity="0.60"/>
<rect x="193" y="486" width="1" height="2" fill="#7803fb" fill-opacity="0.76"/>
<rect x="119" y="221" width="1" height="2" fill="#7a03fd" fill-opacity="0.41"/>
<rect x="183" y="425" width="1" height="2" fill="#7c03fe" fill-opacity="0.72"/>
<rect x="180" y="328" width="1" height="2" fill="#7e04ff" fill-opacity="0.73"/>
<rect x="133" y="216" width="1" height="2" fill="#7602f8" fill-opacity="0.75"/>
<rect x="117" y="122" width="1" height="2" fill="#7b03fd" fill-opacity="0.66"/>
<rect x="153" y="221" width="1" height="2" fill="#7703f9" fill-opacity="0.47"/>
<rect x="162" y="338" width="1" height="2" fill="#7903fc" fill-opacity="0.44"/>
<rect x="155" y="341" width="1" height="2" fill="#7a03fd" fill-opacity="0.75"/>
<rect x="160" y="237" width="1" height="2" fill="#7a03fd" fill-opacity="0.69"/>
<rect x="142" y="451" width="1" height="2" fill="#7c03fe" fill-opacity="0.71"/>
<rect x="111" y="364" width="1" height="2" fill="#7903fb" fill-opacity="0.64"/>
<rect x="109" y="257" width="1" height="2" fill="#7a03fd" fill-opacity="0.64"/>
<rect x="135" y="73" width="1" height="2" fill="#7502f8" fill-opacity="0.69"/>
<rect x="184" y="444" width="1" height="2" fill="#7903fc" fill-opacity="0.54"/>
<rect x="187" y="255" width="1" height="2" fill="#7b03fe" fill-opacity="0.65"/>
<rect x="191" y="482" width="1" height="2" fill="#7d03fe" fill-opacity="0.61"/>
<rect x="140" y="256" width="1" height="2" fill="#7703f9" fill-opacity="0.73"/>
<rect x="116" y="346" width="1" height="2" fill="#7502f8" fill-opacity="0.78"/>
<rect x="148" y="204" width="1" height="2" fill="#7c03fe" fill-opacity="0.55"/>
<rect x="110" y="168" width="1" height="2" fill="#7703fa" fill-opacity="0.41"/>
<rect x="197" y="438" width="1" height="2" fill="#7d04ff" fill-opacity="0.75"/>
<rect x="147" y="268" width="1" height="2" fill="#7703fa" fill-opacity="0.73"/>
<rect x="144" y="183" width="1" height="2" fill="#7903fc" fill-opacity="0.72"/>
<rect x="126" y="521" width="1" height="2" fill="#7903fc" fill-opacity="0.61"/>
<rect x="181" y="105" width="1" height="2" fill="#7b03fe" fill-opacity="0.57"/>
<rect x="138" y="182" width="1" height="2" fill="#7703fa" fill-opacity="0.66"/>
<rect x="174" y="168" width="1" height="2" fill="#7c03fe" fill-opacity="0.56"/>
<rect x="108" y="253" width="1" height="2" fill="#7602f8" fill-opacity="0.48"/>
<rect x="126" y="240" width="1" height="2" fill="#7c03fe" fill-opacity="0.57"/>
<rect x="183" y="486" width="1" height="2" fill="#7d04ff" fill-opacity="0.72"/>
<rect x="151" y="247" width="1" height="2" fill="#7c03fe" fill-opacity="0.42"/>
<rect x="176" y="469" width="1" height="2" fill="#7502f8" fill-opacity="0.45"/>
<rect x="198" y="329" width="1" height="2" fill="#7c03fe" fill-opacity="0.53"/>
<rect x="190" y="85" width="1" height="2" fill="#7903fc" fill-opacity="0.49"/>
<rect x="193" y="329" width="1" height="2" fill="#7d03fe" fill-opacity="0.42"/>
<rect x="133" y="175" width="1" height="2" fill="#7603f9" fill-opacity="0.45"/>
<rect x="140" y="180" width="1" height="2" fill="#7a03fd" fill-opacity="0.51"/>
<rect x="113" y="377" width="1" height="2" fill="#7a03fd" fill-opacity="0.80"/>
<rect x="116" y="415" width="1" height="2" fill="#7502f8" fill-opacity="0.68"/>
<rect x="142" y="153" width="1" height="2" fill="#7603f9" fill-opacity="0.43"/>
<rect x="155" y="363" width="1" height="2" fill="#7602f8" fill-opacity="0.63"/>
<rect x="131" y="454" width="1" height="2" fill="#7803fa" fill-opacity="0.63"/>
<rect x="155" y="333" width="1" height="2" fill="#7a03fd" fill-opacity="0.73"/>
<rect x="106" y="212" width="1" height="2" fill="#7602f8" fill-opacity="0.42"/>
<rect x="150" y="361" width="1" height="2" fill="#7803fb" fill-opacity="0.71"/>
<rect x="180" y="112" width="1" height="2" fill="#7b03fd" fill-opacity="0.63"/>
<rect x="156" y="192" width="1" height="2" fill="#7a03fd" fill-opacity="0.43"/>
<rect x="147" y="347" width="1" height="2" fill="#7703fa" fill-opacity="0.46"/>
<rect x="168" y="383" width="1" height="2" fill="#7a03fd" fill-opacity="0.54"/>
<rect x="158" y="130" width="1" height="2" fill="#7703fa" fill-opacity="0.44"/>
<rect x="146" y="256" width="1" height="2" fill="#7a03fd" fill-opacity="0.67"/>
<rect x="140" y="88" width="1" height="2" fill="#7c03fe" fill-opacity="0.69"/>
<rect x="196" y="519" width="1" height="2" fill="#7903fc" fill-opacity="0.60"/>
<rect x="192" y="154" width="1" height="2" fill="#7603f9" fill-opacity="0.60"/>
<rect x="162" y="183" width="1" height="2" fill="#7703fa" fill-opacity="0.51"/>
<rect x="190" y="462" width="1" height="2" fill="#7602f8" fill-opacity="0.56"/>
<rect x="165" y="386" width="1" height="2" fill="#7a03fd" fill-opacity="0.45"/>
<rect x="158" y="170" width="1" height="2" fill="#7903fc" fill-opacity="0.78"/>
<rect x="173" y="139" width="1" height="2" fill="#7602f8" fill-opacity="0.55"/>
<rect x="135" y="407" width="1" height="2" fill="#7803fb" fill-opacity="0.74"/>
<rect x="164" y="532" width="1" height="2" fill="#7803fb" fill-opacity="0.55"/>
<rect x="136" y="342" width="1" height="2" fill="#7903fc" fill-opacity="0.80"/>
<rect x="114" y="521" width="1" height="2" fill="#7703fa" fill-opacity="0.70"/>
<rect x="110" y="319" width="1" height="2" fill="#7a03fd" fill-opacity="0.69"/>
<rect x="190" y="179" width="1" height="2" fill="#7d04ff" fill-opacity="0.54"/>
<rect x="126" y="431" width="1" height="2" fill="#7803fa" fill-opacity="0.65"/>
<rect x="140" y="327" width="1" height="2" fill="#7703fa" fill-opacity="0.50"/>
<rect x="134" y="462" width="1" height="2" fill="#7d04ff" fill-opacity="0.54"/>
<rect x="192" y="290" width="1" height="2" fill="#7703fa" fill-opacity="0.53"/>
<rect x="145" y="370" width="1" height="2" fill="#7803fb" fill-opacity="0.43"/>
<rect x="149" y="262" width="1" height="2" fill="#7903fc" fill-opacity="0.54"/>
<rect x="147" y="260" width="1" height="2" fill="#7803fb" fill-opacity="0.59"/>
<rect x="160" y="150" width="1" height="2" fill="#7903fc" fill-opacity="0.73"/>
<rect x="154" y="222" width="1" height="2" fill="#7602f8" fill-opacity="0.55"/>
<rect x="164" y="234" width="1" height="2" fill="#7e04ff" fill-opacity="0.76"/>
<rect x="118" y="381" width="1" height="2" fill="#7703f9" fill-opacity="0.41"/>
<rect x="194" y="287" width="1" height="2" fill="#7b03fe" fill-opacity="0.44"/>
<rect x="180" y="273" width="1" height="2" fill="#7b03fe" fill-opacity="0.61"/>
<rect x="147" y="193" width="1" height="2" fill="#7d04ff" fill-opacity="0.78"/>
<rect x="165" y="496" width="1" height="2" fill="#7b03fd" fill-opacity="0.45"/>
<rect x="172" y="385" width="1" height="2" fill="#7903fc" fill-opacity="0.50"/>
<rect x="155" y="268" width="1" height="2" fill="#7903fc" fill-opacity="0.58"/>
<rect x="191" y="239" width="1" height="2" fill="#7502f8" fill-opacity="0.40"/>
<rect x="140" y="143" width="1" height="2" fill="#7c03fe" fill-opacity="0.76"/>
<rect x="146" y="481" width="1" height="2" fill="#7a03fd" fill-opacity="0.78"/>
<rect x="151" y="468" width="1" height="2" fill="#7d04ff" fill-opacity="0.45"/>
<rect x="155" y="152" width="1" height="2" fill="#7c03fe" fill-opacity="0.66"/>
<rect x="133" y="372" width="1" height="2" fill="#7e04ff" fill-opacity="0.50"/>
<rect x="193" y="438" width="1" height="2" fill="#7703fa" fill-opacity="0.73"/>
<rect x="119" y="376" width="1" height="2" fill="#7502f8" fill-opacity="0.64"/>
<rect x="157" y="216" width="1" height="2" fill="#7c03fe" fill-opacity="0.69"/>
<rect x="134" y="186" width="1" height="2" fill="#7a03fd" fill-opacity="0.43"/>
<rect x="120" y="243" width="1" height="2" fill="#7e04ff" fill-opacity="0.78"/>
<rect x="109" y="406" width="1" height="2" fill="#7b03fe" fill-opacity="0.65"/>
<rect x="196" y="521" width="1" height="2" fill="#7a03fd" fill-opacity="0.67"/>
<rect x="186" y="126" width="1" height="2" fill="#7a03fc" fill-opacity="0.76"/>
<rect x="105" y="230" width="1" height="2" fill="#7803fb" fill-opacity="0.47"/>
<rect x="145" y="239" width="1" height="2" fill="#7703fa" fill-opacity="0.78"/>
<rect x="190" y="158" width="1" height="2" fill="#7b03fe" fill-opacity="0.69"/>
<rect x="136" y="297" width="1" height="2" fill="#7803fb" fill-opacity="0.72"/>
<rect x="171" y="489" width="1" height="2" fill="#7a03fc" fill-opacity="0.59"/>
<rect x="135" y="194" width="1" height="2" fill="#7d04ff" fill-opacity="0.55"/>
<rect x="190" y="459" width="1" height="2" fill="#7d04ff" fill-opacity="0.63"/>
<rect x="177" y="528" width="1" height="2" fill="#7903fc" fill-opacity="0.59"/>
<rect x="197" y="130" width="1" height="2" fill="#7903fc" fill-opacity="0.70"/>
<rect x="197" y="128" width="1" height="2" fill="#7803fb" fill-opacity="0.57"/>
<rect x="111" y="70" width="1" height="2" fill="#7703fa" fill-opacity="0.65"/>
<rect x="141" y="194" width="1" height="2" fill="#7b03fd" fill-opacity="0.59"/>
<rect x="151" y="441" width="1" height="2" fill="#7b03fe" fill-opacity="0.69"/>
<rect x="197" y="68" width="1" height="2" fill="#7a03fd" fill-opacity="0.56"/>
<rect x="174" y="125" width="1" height="2" fill="#7b03fe" fill-opacity="0.63"/>
<rect x="137" y="474" width="1" height="2" fill="#7b03fe" fill-opacity="0.75"/>
<rect x="163" y="130" width="1" height="2" fill="#7a03fd" fill-opacity="0.50"/>
<rect x="181" y="441" width="1" height="2" fill="#7803fb" fill-opacity="0.76"/>
<rect x="117" y="322" width="1" height="2" fill="#7b03fe" fill-opacity="0.75"/>
<rect x="106" y="500" width="1" height="2" fill="#7d04ff" fill-opacity="0.56"/>
<rect x="172" y="71" width="1" height="2" fill="#7803fb" fill-opacity="0.69"/>
<rect x="195" y="202" width="1" height="2" fill="#7703fa" fill-opacity="0.64"/>
<rect x="171" y="283" width="1" height="2" fill="#7a03fc" fill-opacity="0.51"/>
<rect x="190" y="228" width="1" height="2" fill="#7a03fd" fill-opacity="0.43"/>
<rect x="112" y="272" width="1" height="2" fill="#7502f8" fill-opacity="0.64"/>
<rect x="181" y="496" width="1" height="2" fill="#7903fc" fill-opacity="0.50"/>
<rect x="123" y="532" width="1" height="2" fill="#7903fc" fill-opacity="0.70"/>
<rect x="112" y="298" width="1" height="2" fill="#7602f8" fill-opacity="0.57"/>
<rect x="173" y="497" width="1" height="2" fill="#7b03fe" fill-opacity="0.75"/>
<rect x="139" y="199" width="1" height="2" fill="#7a03fd" fill-opacity="0.63"/>
<rect x="138" y="250" width="1" height="2" fill="#7903fc" fill-opacity="0.41"/>
<rect x="189" y="397" width="1" height="2" fill="#7b03fd" fill-opacity="0.45"/>
<rect x="140" y="236" width="1" height="2" fill="#7a03fd" fill-opacity="0.62"/>
<rect x="187" y="283" width="1" height="2" fill="#7703fa" fill-opacity="0.69"/>
<rect x="192" y="510" width="1" height="2" fill="#7b03fe" fill-opacity="0.46"/>
<rect x="109" y="184" width="1" height="2" fill="#7c03fe" fill-opacity="0.66"/>
<rect x="111" y="270" width="1" height="2" fill="#7803fb" fill-opacity="0.56"/>
<rect x="177" y="330" width="1" height="2" fill="#7c03fe" fill-opacity="0.62"/>
<rect x="185" y="532" width="1" height="2" fill="#7a03fd" fill-opacity="0.55"/>
<rect x="107" y="97" width="1" height="2" fill="#7b03fe" fill-opacity="0.72"/>
<rect x="152" y="280" width="1" height="2" fill="#7a03fc" fill-opacity="0.49"/>
<rect x="196" y="461" width="1" height="2" fill="#7b03fe" fill-opacity="0.47"/>
<rect x="171" y="377" width="1" height="2" fill="#7b03fd" fill-opacity="0.52"/>
<rect x="117" y="359" width="1" height="2" fill="#7c03fe" fill-opacity="0.63"/>
<rect x="200" y="475" width="1" height="2" fill="#7903fc" fill-opacity="0.61"/>
<rect x="178" y="173" width="1" height="2" fill="#7502f8" fill-opacity="0.51"/>
<rect x="186" y="411" width="1" height="2" fill="#7703fa" fill-opacity="0.46"/>
<rect x="142" y="455" width="1" height="2" fill="#7d04ff" fill-opacity="0.55"/>
<rect x="182" y="277" width="1" height="2" fill="#7a03fd" fill-opacity="0.44"/>
<rect x="131" y="132" width="1" height="2" fill="#7502f8" fill-opacity="0.57"/>
<rect x="107" y="492" width="1" height="2" fill="#7a03fd" fill-opacity="0.55"/>
<rect x="128" y="164" width="1" height="2" fill="#7903fc" fill-opacity="0.47"/>
<rect x="110" y="129" width="1" height="2" fill="#7e04ff" fill-opacity="0.64"/>
<rect x="188" y="99" width="1" height="2" fill="#7703fa" fill-opacity="0.69"/>
<rect x="120" y="126" width="1" height="2" fill="#7803fb" fill-opacity="0.48"/>
<rect x="153" y="280" width="1" height="2" fill="#7803fb" fill-opacity="0.61"/>
<rect x="127" y="392" width="1" height="2" fill="#7d04ff" fill-opacity="0.64"/>
<rect x="154" y="197" width="1" height="2" fill="#7d04ff" fill-opacity="0.76"/>
<rect x="157" y="162" width="1" height="2" fill="#7703fa" fill-opacity="0.54"/>
<rect x="169" y="509" width="1" height="2" fill="#7a03fd" fill-opacity="0.52"/>
<rect x="168" y="200" width="1" height="2" fill="#7a03fc" fill-opacity="0.56"/>
<rect x="170" y="250" width="1" height="2" fill="#7c03fe" fill-opacity="0.59"/>
<rect x="198" y="352" width="1" height="2" fill="#7903fc" fill-opacity="0.67"/>
<rect x="171" y="263" width="1" height="2" fill="#7603f9" fill-opacity="0.51"/>
<rect x="120" y="409" width="1" height="2" fill="#7b03fe" fill-opacity="0.78"/>
<rect x="131" y="195" width="1" height="2" fill="#7a03fc" fill-opacity="0.65"/>
<rect x="163" y="288" width="1" height="2" fill="#7903fc" fill-opacity="0.79"/>
<rect x="198" y="111" width="1" height="2" fill="#7a03fd" fill-opacity="0.49"/>
<rect x="122" y="298" width="1" height="2" fill="#7703fa" fill-opacity="0.59"/>
<rect x="192" y="361" width="1" height="2" fill="#7a03fc" fill-opacity="0.66"/>
<rect x="192" y="357" width="1" height="2" fill="#7803fb" fill-opacity="0.50"/>
<rect x="162" y="180" width="1" height="2" fill="#7d04ff" fill-opacity="0.56"/>
<rect x="174" y="200" width="1" height="2" fill="#7d04fe" fill-opacity="0.78"/>
<rect x="113" y="514" width="1" height="2" fill="#7903fc" fill-opacity="0.77"/>
<rect x="144" y="74" width="1" height="2" fill="#7e04ff" fill-opacity="0.48"/>
<rect x="151" y="345" width="1" height="2" fill="#7d04ff" fill-opacity="0.54"/>
<rect x="145" y="154" width="1" height="2" fill="#7e04ff" fill-opacity="0.78"/>
<rect x="169" y="69" width="1" height="2" fill="#7a03fc" fill-opacity="0.70"/>
<rect x="174" y="82" width="1" height="2" fill="#7b03fd" fill-opacity="0.47"/>
<rect x="134" y="219" width="1" height="2" fill="#7903fc" fill-opacity="0.62"/>
<rect x="133" y="481" width="1" height="2" fill="#7603f9" fill-opacity="0.73"/>
<rect x="178" y="469" width="1" height="2" fill="#7b03fe" fill-opacity="0.68"/>
<rect x="136" y="271" width="1" height="2" fill="#7903fc" fill-opacity="0.42"/>
<rect x="148" y="294" width="1" height="2" fill="#7803fb" fill-opacity="0.75"/>
<rect x="147" y="291" width="1" height="2" fill="#7a03fc" fill-opacity="0.80"/>
<rect x="195" y="370" width="1" height="2" fill="#7c03fe" fill-opacity="0.74"/>
<rect x="127" y="512" width="1" height="2" fill="#7903fc" fill-opacity="0.52"/>
<rect x="128" y="506" width="1" height="2" fill="#7a03fd" fill-opacity="0.51"/>
<rect x="132" y="62" width="1" height="2" fill="#7903fb" fill-opacity="0.44"/>
<rect x="131" y="156" width="1" height="2" fill="#7a03fd" fill-opacity="0.58"/>
<rect x="200" y="301" width="1" height="2" fill="#7703fa" fill-opacity="0.70"/>
<rect x="195" y="167" width="1" height="2" fill="#7602f8" fill-opacity="0.55"/>
<rect x="174" y="228" width="1" height="2" fill="#7b03fd" fill-opacity="0.61"/>
<rect x="177" y="495" width="1" height="2" fill="#7703fa" fill-opacity="0.56"/>
<rect x="140" y="141" width="1" height="2" fill="#7803fb" fill-opacity="0.50"/>
<rect x="146" y="518" width="1" height="2" fill="#7a03fd" fill-opacity="0.60"/>
<rect x="146" y="140" width="1" height="2" fill="#7b03fe" fill-opacity="0.78"/>
<rect x="168" y="267" width="1" height="2" fill="#7d03fe" fill-opacity="0.49"/>
<rect x="139" y="189" width="1" height="2" fill="#7d04ff" fill-opacity="0.50"/>
<rect x="127" y="338" width="1" height="2" fill="#7c03fe" fill-opacity="0.71"/>
<rect x="142" y="139" width="1" height="2" fill="#7e04ff" fill-opacity="0.64"/>
<rect x="107" y="186" width="1" height="2" fill="#7803fb" fill-opacity="0.50"/>
<rect x="175" y="369" width="1" height="2" fill="#7e04ff" fill-opacity="0.48"/>
<rect x="135" y="120" width="1" height="2" fill="#7c03fe" fill-opacity="0.71"/>
<rect x="146" y="226" width="1" height="2" fill="#7c03fe" fill-opacity="0.49"/>
<rect x="106" y="153" width="1" height="2" fill="#7903fc" fill-opacity="0.47"/>
<rect x="170" y="350" width="1" height="2" fill="#7703fa" fill-opacity="0.51"/>
<rect x="132" y="464" width="1" height="2" fill="#7a03fd" fill-opacity="0.55"/>
<rect x="168" y="506" width="1" height="2" fill="#7c03fe" fill-opacity="0.48"/>
<rect x="135" y="254" width="1" height="2" fill="#7903fc" fill-opacity="0.69"/>
<rect x="112" y="239" width="1" height="2" fill="#7d04ff" fill-opacity="0.78"/>
<rect x="188" y="445" width="1" height="2" fill="#7b03fe" fill-opacity="0.66"/>
<rect x="121" y="454" width="1" height="2" fill="#7a03fd" fill-opacity="0.67"/>
<rect x="137" y="101" width="1" height="2" fill="#7903fb" fill-opacity="0.50"/>
<rect x="125" y="516" width="1" height="2" fill="#7903fb" fill-opacity="0.76"/>
<rect x="186" y="125" width="1" height="2" fill="#7d04ff" fill-opacity="0.46"/>
<rect x="196" y="167" width="1" height="2" fill="#7e04ff" fill-opacity="0.72"/>
<rect x="132" y="355" width="1" height="2" fill="#7703fa" fill-opacity="0.64"/>
<rect x="125" y="132" width="1" height="2" fill="#7803fa" fill-opacity="0.72"/>
<rect x="166" y="325" width="1" height="2" fill="#7803fb" fill-opacity="0.69"/>
<rect x="198" y="273" width="1" height="2" fill="#7903fc" fill-opacity="0.64"/>
<rect x="174" y="387" width="1" height="2" fill="#7c03fe" fill-opacity="0.75"/>
<rect x="114" y="512" width="1" height="2" fill="#7603f9" fill-opacity="0.44"/>
<rect x="183" y="295" width="1" height="2" fill="#7903fb" fill-opacity="0.46"/>
<rect x="181" y="308" width="1" height="2" fill="#7703f9" fill-opacity="0.46"/>
<rect x="112" y="149" width="1" height="2" fill="#7c03fe" fill-opacity="0.45"/>
<rect x="129" y="147" width="1" height="2" fill="#7803fb" fill-opacity="0.49"/>
<rect x="116" y="203" width="1" height="2" fill="#7e04ff" fill-opacity="0.41"/>
<rect x="117" y="360" width="1" height="2" fill="#7903fc" fill-opacity="0.51"/>
<rect x="140" y="225" width="1" height="2" fill="#7602f8" fill-opacity="0.53"/>
<rect x="109" y="136" width="1" height="2" fill="#7d04ff" fill-opacity="0.56"/>
<rect x="110" y="159" width="1" height="2" fill="#7603f9" fill-opacity="0.60"/>
<rect x="127" y="508" width="1" height="2" fill="#7803fb" fill-opacity="0.49"/>
<rect x="158" y="454" width="1" height="2" fill="#7a03fd" fill-opacity="0.53"/>
<rect x="167" y="526" width="1" height="2" fill="#7a03fd" fill-opacity="0.72"/>
<rect x="164" y="327" width="1" height="2" fill="#7803fb" fill-opacity="0.63"/>
<rect x="148" y="233" width="1" height="2" fill="#7a03fd" fill-opacity="0.69"/>
<rect x="143" y="439" width="1" height="2" fill="#7502f7" fill-opacity="0.75"/>
<rect x="158" y="245" width="1" height="2" fill="#7903fc" fill-opacity="0.73"/>
<rect x="192" y="88" width="1" height="2" fill="#7502f8" fill-opacity="0.46"/>
<rect x="151" y="401" width="1" height="2" fill="#7603f9" fill-opacity="0.45"/>
<rect x="317.0" y="398.2" width="2.5" height="11" fill="#8104ff" fill-opacity="0.75"/>
<rect x="317.0" y="399.6" width="2.5" height="3.6" fill="#8706fb"/>
<rect x="317.0" y="404.3" width="2.5" height="3.8" fill="#8806f9"/>
<rect x="319.4" y="398.2" width="2.5" height="11" fill="#8104ff" fill-opacity="0.75"/>
<rect x="319.4" y="399.6" width="2.5" height="3.6" fill="#8706fb"/>
<rect x="319.4" y="404.3" width="2.5" height="3.8" fill="#8906f7"/>
<rect x="321.8" y="398.2" width="2.5" height="11" fill="#8104ff" fill-opacity="0.75"/>
<rect x="321.8" y="399.6" width="2.5" height="3.6" fill="#8706fa"/>
<rect x="321.8" y="404.3" width="2.5" height="3.8" fill="#8b07f4"/>
<rect x="324.3" y="398.2" width="2.6" height="11" fill="#8104ff" fill-opacity="0.75"/>
<rect x="324.3" y="399.6" width="2.6" height="3.6" fill="#8706fa"/>
<rect x="324.3" y="404.3" width="2.6" height="3.8" fill="#8c07f1"/>
<rect x="326.7" y="398.2" width="2.6" height="11" fill="#8104ff" fill-opacity="0.75"/>
<rect x="326.7" y="399.6" width="2.6" height="3.6" fill="#8806fa"/>
<rect x="326.7" y="404.3" width="2.6" height="3.8" fill="#8e07ee"/>
<rect x="329.2" y="398.2" width="2.6" height="11" fill="#8104ff" fill-opacity="0.75"/>
<rect x="329.2" y="399.6" width="2.6" height="3.6" fill="#8806f9"/>
<rect x="329.2" y="404.3" width="2.6" height="3.8" fill="#8f08eb"/>
<rect x="331.7" y="398.2" width="2.6" height="11" fill="#8104ff" fill-opacity="0.75"/>
<rect x="331.7" y="399.6" width="2.6" height="3.6" fill="#8806f9"/>
<rect x="331.7" y="404.3" width="2.6" height="3.8" fill="#9008e8"/>
<rect x="334.2" y="398.2" width="2.6" height="11" fill="#8104ff" fill-opacity="0.75"/>
<rect x="334.2" y="399.6" width="2.6" height="3.6" fill="#8806f8"/>
<rect x="334.2" y="404.3" width="2.6" height="3.8" fill="#9109e4"/>
<rect x="336.8" y="398.2" width="2.7" height="11" fill="#8104ff" fill-opacity="0.75"/>
<rect x="336.8" y="399.6" width="2.7" height="3.6" fill="#8906f8"/>
<rect x="336.8" y="404.3" width="2.7" height="3.8" fill="#9209e0"/>
<rect x="339.3" y="398.2" width="2.7" height="11" fill="#8104ff" fill-opacity="0.75"/>
<rect x="339.3" y="399.6" width="2.7" height="3.6" fill="#8906f8"/>
<rect x="339.3" y="404.3" width="2.7" height="3.8" fill="#940adb"/>
<rect x="341.9" y="398.2" width="2.7" height="11" fill="#8104ff" fill-opacity="0.75"/>
<rect x="341.9" y="399.6" width="2.7" height="3.6" fill="#8906f7"/>
<rect x="341.9" y="404.3" width="2.7" height="3.8" fill="#960bd1"/>
<rect x="344.5" y="398.2" width="2.7" height="11" fill="#8104ff" fill-opacity="0.75"/>
<rect x="344.5" y="399.6" width="2.7" height="3.6" fill="#8906f7"/>
<rect x="344.5" y="404.3" width="2.7" height="3.8" fill="#990cc6"/>
<rect x="347.1" y="398.2" width="2.7" height="11" fill="#8104ff" fill-opacity="0.75"/>
<rect x="347.1" y="399.6" width="2.7" height="3.6" fill="#8a06f6"/>
<rect x="347.1" y="404.3" width="2.7" height="3.8" fill="#9b0dba"/>
<rect x="349.7" y="398.2" width="2.8" height="11" fill="#8104ff" fill-opacity="0.75"/>
<rect x="349.7" y="399.6" width="2.8" height="3.6" fill="#8a06f6"/>
<rect x="349.7" y="404.3" width="2.8" height="3.8" fill="#9d0eae"/>
<rect x="352.4" y="398.2" width="2.8" height="11" fill="#8104ff" fill-opacity="0.75"/>
<rect x="352.4" y="399.6" width="2.8" height="3.6" fill="#8a06f5"/>
<rect x="352.4" y="404.3" width="2.8" height="3.8" fill="#9f0fa1"/>
<rect x="355.1" y="398.2" width="2.8" height="11" fill="#8104ff" fill-opacity="0.75"/>
<rect x="355.1" y="399.6" width="2.8" height="3.6" fill="#8f08ea"/>
<rect x="355.1" y="404.3" width="2.8" height="3.8" fill="#a11096"/>
<rect x="357.7" y="398.2" width="2.8" height="11" fill="#8104ff" fill-opacity="0.75"/>
<rect x="357.7" y="399.6" width="2.8" height="3.6" fill="#980bcb"/>
<rect x="357.7" y="404.3" width="2.8" height="3.8" fill="#a21094"/>
<rect x="360.5" y="398.2" width="2.8" height="11" fill="#8104ff" fill-opacity="0.75"/>
<rect x="360.5" y="399.6" width="2.8" height="3.6" fill="#9d0eb2"/>
<rect x="360.5" y="404.3" width="2.8" height="3.8" fill="#a21193"/>
<rect x="363.2" y="398.2" width="2.9" height="11" fill="#8104ff" fill-opacity="0.75"/>
<rect x="363.2" y="399.6" width="2.9" height="3.6" fill="#a00fa0"/>
<rect x="363.2" y="404.3" width="2.9" height="3.8" fill="#a21191"/>
<rect x="365.9" y="398.2" width="2.9" height="11" fill="#8104ff" fill-opacity="0.75"/>
<rect x="365.9" y="399.6" width="2.9" height="3.6" fill="#a11095"/>
<rect x="365.9" y="404.3" width="2.9" height="3.8" fill="#a21190"/>
<rect x="368.7" y="398.2" width="2.9" height="11" fill="#8104ff" fill-opacity="0.75"/>
<rect x="368.7" y="399.6" width="2.9" height="3.6" fill="#a21094"/>
<rect x="368.7" y="404.3" width="2.9" height="3.8" fill="#a2118f"/>
<rect x="371.5" y="398.2" width="2.9" height="11" fill="#8104ff" fill-opacity="0.75"/>
<rect x="371.5" y="399.6" width="2.9" height="3.6" fill="#a21193"/>
<rect x="371.5" y="404.3" width="2.9" height="3.8" fill="#a3118d"/>
<rect x="374.3" y="398.2" width="2.9" height="11" fill="#8104ff" fill-opacity="0.75"/>
<rect x="374.3" y="399.6" width="2.9" height="3.6" fill="#a21191"/>
<rect x="374.3" y="404.3" width="2.9" height="3.8" fill="#a3118c"/>
<rect x="377.1" y="398.2" width="3.0" height="11" fill="#8104ff" fill-opacity="0.75"/>
<rect x="377.1" y="399.6" width="3.0" height="3.6" fill="#a21190"/>
<rect x="377.1" y="404.3" width="3.0" height="3.8" fill="#a3118a"/>
<rect x="380.0" y="398.2" width="3.0" height="11" fill="#8104ff" fill-opacity="0.75"/>
<rect x="380.0" y="399.6" width="3.0" height="3.6" fill="#a2118f"/>
<rect x="380.0" y="404.3" width="3.0" height="3.8" fill="#a31289"/>
<rect x="382.9" y="398.2" width="3.0" height="11" fill="#8104ff" fill-opacity="0.75"/>
<rect x="382.9" y="399.6" width="3.0" height="3.6" fill="#a51280"/>
<rect x="382.9" y="404.3" width="3.0" height="3.8" fill="#a41283"/>
<rect x="385.8" y="398.2" width="3.0" height="11" fill="#8104ff" fill-opacity="0.75"/>
<rect x="385.8" y="399.6" width="3.0" height="3.6" fill="#a7146d"/>
<rect x="385.8" y="404.3" width="3.0" height="3.8" fill="#a9165e"/>
<rect x="388.7" y="398.2" width="3.0" height="11" fill="#8104ff" fill-opacity="0.75"/>
<rect x="388.7" y="399.6" width="3.0" height="3.6" fill="#af1a31"/>
<rect x="388.7" y="404.3" width="3.0" height="3.8" fill="#b01c22"/>
<rect x="391.6" y="398.2" width="3.1" height="11" fill="#8104ff" fill-opacity="0.75"/>
<rect x="391.6" y="399.6" width="3.1" height="3.6" fill="#b82400"/>
<rect x="391.6" y="404.3" width="3.1" height="3.8" fill="#bb2800"/>
<rect x="394.6" y="399.2" width="3.1" height="9.6" fill="#9b0dbd" fill-opacity="0.75"/>
<rect x="394.6" y="400.4" width="3.1" height="7.2" fill="#bc2900"/>
<rect x="397.6" y="399.2" width="3.1" height="9.5" fill="#9e0eaa" fill-opacity="0.75"/>
<rect x="397.6" y="400.4" width="3.1" height="7.1" fill="#bf2d00"/>
<rect x="400.6" y="399.1" width="3.1" height="9.5" fill="#9f0fa4" fill-opacity="0.75"/>
<rect x="400.6" y="400.3" width="3.1" height="7.1" fill="#c02e00"/>
<rect x="403.6" y="399.0" width="3.2" height="9.5" fill="#9f0fa4" fill-opacity="0.75"/>
<rect x="403.6" y="400.2" width="3.2" height="7.1" fill="#c02e00"/>
<rect x="406.7" y="398.9" width="3.2" height="9.4" fill="#9f0fa4" fill-opacity="0.75"/>
<rect x="406.7" y="400.1" width="3.2" height="7.0" fill="#c02e00"/>
<rect x="409.8" y="398.8" width="3.2" height="9.4" fill="#9f0fa4" fill-opacity="0.75"/>
<rect x="409.8" y="400.0" width="3.2" height="7.0" fill="#c02e00"/>
<rect x="412.9" y="398.7" width="3.2" height="9.3" fill="#9f0fa4" fill-opacity="0.75"/>
<rect x="412.9" y="399.9" width="3.2" height="6.9" fill="#c02e00"/>
<rect x="416.0" y="398.6" width="3.2" height="9.3" fill="#9f0fa4" fill-opacity="0.75"/>
<rect x="416.0" y="399.8" width="3.2" height="6.9" fill="#c02e00"/>
<rect x="419.1" y="398.5" width="3.3" height="9.3" fill="#9f0fa4" fill-opacity="0.75"/>
<rect x="419.1" y="399.7" width="3.3" height="6.9" fill="#c02e00"/>
<rect x="422.3" y="398.4" width="3.3" height="9.2" fill="#9f0fa4" fill-opacity="0.75"/>
<rect x="422.3" y="399.6" width="3.3" height="6.8" fill="#c02e00"/>
<rect x="425.5" y="398.3" width="3.3" height="9.2" fill="#9f0fa4" fill-opacity="0.75"/>
<rect x="425.5" y="399.5" width="3.3" height="6.8" fill="#c02e00"/>
<rect x="428.7" y="398.2" width="3.3" height="9.2" fill="#9f0fa4" fill-opacity="0.75"/>
<rect x="428.7" y="399.4" width="3.3" height="6.8" fill="#c02e00"/>
<rect x="431.9" y="398.0" width="3.4" height="9.2" fill="#9f0fa4" fill-opacity="0.75"/>
<rect x="431.9" y="399.2" width="3.4" height="6.8" fill="#c02e00"/>
<rect x="435.2" y="397.9" width="3.4" height="9.3" fill="#9f0fa4" fill-opacity="0.75"/>
<rect x="435.2" y="399.1" width="3.4" height="6.9" fill="#c02e00"/>
<rect x="438.5" y="397.8" width="3.4" height="9.3" fill="#9f0fa4" fill-opacity="0.75"/>
<rect x="438.5" y="399.0" width="3.4" height="6.9" fill="#c02e00"/>
<rect x="441.8" y="397.6" width="3.4" height="9.3" fill="#9f0fa4" fill-opacity="0.75"/>
<rect x="441.8" y="398.8" width="3.4" height="6.9" fill="#c02e00"/>
<rect x="445.1" y="397.5" width="3.5" height="9.3" fill="#9f0fa4" fill-opacity="0.75"/>
<rect x="445.1" y="398.7" width="3.5" height="6.9" fill="#c02e00"/>
<rect x="448.5" y="397.3" width="3.5" height="9.3" fill="#9f0fa4" fill-opacity="0.75"/>
<rect x="448.5" y="398.5" width="3.5" height="6.9" fill="#c02e00"/>
<rect x="451.9" y="397.2" width="3.5" height="9.3" fill="#9f0fa4" fill-opacity="0.75"/>
<rect x="451.9" y="398.4" width="3.5" height="6.9" fill="#c02e00"/>
<rect x="455.3" y="397.0" width="3.5" height="9.3" fill="#9f0fa4" fill-opacity="0.75"/>
<rect x="455.3" y="398.2" width="3.5" height="6.9" fill="#c02e00"/>
<rect x="458.7" y="396.9" width="3.6" height="9.4" fill="#9f0fa4" fill-opacity="0.75"/>
<rect x="458.7" y="398.1" width="3.6" height="7.0" fill="#c02e00"/>
<rect x="462.2" y="396.8" width="3.6" height="9.4" fill="#9f0fa4" fill-opacity="0.75"/>
<rect x="462.2" y="398.0" width="3.6" height="7.0" fill="#c02e00"/>
<rect x="465.7" y="396.6" width="3.6" height="9.4" fill="#9f0fa4" fill-opacity="0.75"/>
<rect x="465.7" y="397.8" width="3.6" height="7.0" fill="#c02e00"/>
<rect x="469.2" y="396.5" width="3.6" height="9.4" fill="#9f0fa4" fill-opacity="0.75"/>
<rect x="469.2" y="397.7" width="3.6" height="7.0" fill="#c02e00"/>
<rect x="472.8" y="396.3" width="3.7" height="9.2" fill="#9f0fa4" fill-opacity="0.75"/>
<rect x="472.8" y="397.5" width="3.7" height="6.8" fill="#c02e00"/>
<rect x="476.3" y="396.1" width="3.7" height="9.0" fill="#9f0fa4" fill-opacity="0.75"/>
<rect x="476.3" y="397.3" width="3.7" height="6.6" fill="#c02e00"/>
<rect x="479.9" y="396.0" width="3.7" height="8.9" fill="#9f0fa4" fill-opacity="0.75"/>
<rect x="479.9" y="397.2" width="3.7" height="6.5" fill="#c02e00"/>
<rect x="483.5" y="395.8" width="3.7" height="8.7" fill="#9f0fa4" fill-opacity="0.75"/>
<rect x="483.5" y="397.0" width="3.7" height="6.3" fill="#c02e00"/>
<rect x="487.2" y="395.6" width="3.8" height="8.6" fill="#9f0fa4" fill-opacity="0.75"/>
<rect x="487.2" y="396.8" width="3.8" height="6.2" fill="#c02e00"/>
<rect x="490.9" y="395.5" width="3.8" height="8.4" fill="#9f0fa4" fill-opacity="0.75"/>
<rect x="490.9" y="396.7" width="3.8" height="6.0" fill="#c02e00"/>
<rect x="494.6" y="395.3" width="3.8" height="8.3" fill="#9f0fa4" fill-opacity="0.75"/>
<rect x="494.6" y="396.5" width="3.8" height="5.9" fill="#c02e00"/>
<rect x="498.3" y="395.1" width="3.9" height="8.1" fill="#9f0fa4" fill-opacity="0.75"/>
<rect x="498.3" y="396.3" width="3.9" height="5.7" fill="#c02e00"/>
<rect x="502.1" y="394.8" width="3.9" height="7.9" fill="#9f0fa4" fill-opacity="0.75"/>
<rect x="502.1" y="396.0" width="3.9" height="5.5" fill="#c02e00"/>
<rect x="505.8" y="394.5" width="3.9" height="7.7" fill="#9f0fa4" fill-opacity="0.75"/>
<rect x="505.8" y="395.7" width="3.9" height="5.3" fill="#c02e00"/>
<rect x="509.7" y="394.2" width="3.9" height="7.6" fill="#9f0fa4" fill-opacity="0.75"/>
<rect x="509.7" y="395.4" width="3.9" height="5.2" fill="#c02e00"/>
<rect x="513.5" y="393.9" width="4.0" height="7.4" fill="#9f0fa4" fill-opacity="0.75"/>
<rect x="513.5" y="395.1" width="4.0" height="5.0" fill="#c02e00"/>
<rect x="517.4" y="393.5" width="4.0" height="7.2" fill="#9f0fa4" fill-opacity="0.75"/>
<rect x="517.4" y="394.7" width="4.0" height="4.8" fill="#c02e00"/>
<rect x="521.3" y="393.2" width="4.0" height="7.0" fill="#9f0fa4" fill-opacity="0.75"/>
<rect x="521.3" y="394.4" width="4.0" height="4.6" fill="#c02e00"/>
<rect x="525.2" y="392.9" width="4.1" height="6.8" fill="#9f0fa4" fill-opacity="0.75"/>
<rect x="525.2" y="394.1" width="4.1" height="4.4" fill="#c02e00"/>
<rect x="529.2" y="392.6" width="4.1" height="6.7" fill="#9f0fa4" fill-opacity="0.75"/>
<rect x="529.2" y="393.8" width="4.1" height="4.3" fill="#c02e00"/>
<rect x="533.1" y="392.2" width="4.1" height="6.6" fill="#9f0fa4" fill-opacity="0.75"/>
<rect x="533.1" y="393.4" width="4.1" height="4.2" fill="#c02e00"/>
<rect x="537.2" y="391.9" width="4.1" height="6.5" fill="#9f0fa4" fill-opacity="0.75"/>
<rect x="537.2" y="393.1" width="4.1" height="4.1" fill="#c02e00"/>
<rect x="541.2" y="391.5" width="4.2" height="6.3" fill="#9f0fa4" fill-opacity="0.75"/>
<rect x="541.2" y="392.7" width="4.2" height="3.9" fill="#c02e00"/>
<rect x="545.3" y="391.0" width="4.2" height="6.3" fill="#9e0fa8" fill-opacity="0.75"/>
<rect x="545.3" y="392.2" width="4.2" height="3.9" fill="#bf2e00"/>
<rect x="549.4" y="390.5" width="4.2" height="6.3" fill="#9d0eae" fill-opacity="0.75"/>
<rect x="549.4" y="391.7" width="4.2" height="3.9" fill="#bf2c00"/>
<rect x="553.5" y="390.0" width="4.3" height="6.3" fill="#9c0db4" fill-opacity="0.75"/>
<rect x="553.5" y="391.2" width="4.3" height="3.9" fill="#be2b00"/>
<rect x="557.7" y="389.4" width="4.3" height="6.3" fill="#9b0dba" fill-opacity="0.75"/>
<rect x="557.7" y="390.6" width="4.3" height="3.9" fill="#bd2a00"/>
<rect x="561.9" y="388.9" width="4.3" height="6.4" fill="#9a0cc0" fill-opacity="0.75"/>
<rect x="561.9" y="390.1" width="4.3" height="4.0" fill="#bc2900"/>
<rect x="566.1" y="388.3" width="4.4" height="6.4" fill="#990cc5" fill-opacity="0.75"/>
<rect x="566.1" y="389.5" width="4.4" height="4.0" fill="#bb2800"/>
<rect x="570.4" y="387.8" width="4.4" height="6.4" fill="#980bcb" fill-opacity="0.75"/>
<rect x="570.4" y="389.0" width="4.4" height="4.0" fill="#ba2600"/>
<rect x="574.7" y="387.2" width="4.4" height="6.4" fill="#970bd0" fill-opacity="0.75"/>
<rect x="574.7" y="388.4" width="4.4" height="4.0" fill="#b92500"/>
<rect x="579.0" y="386.6" width="4.5" height="6.4" fill="#950ad5" fill-opacity="0.75"/>
<rect x="579.0" y="387.8" width="4.5" height="4.0" fill="#b82400"/>
<rect x="583.4" y="385.9" width="4.5" height="6.4" fill="#940adb" fill-opacity="0.75"/>
<rect x="583.4" y="387.1" width="4.5" height="4.0" fill="#b72300"/>
<rect x="587.8" y="385.1" width="4.5" height="6.4" fill="#9209e0" fill-opacity="0.75"/>
<rect x="587.8" y="386.3" width="4.5" height="4.0" fill="#b62100"/>
<rect x="592.2" y="384.4" width="4.6" height="6.4" fill="#9109e5" fill-opacity="0.75"/>
<rect x="592.2" y="385.6" width="4.6" height="4.0" fill="#b42000"/>
<rect x="596.7" y="383.6" width="4.6" height="6.4" fill="#8f08e9" fill-opacity="0.75"/>
<rect x="596.7" y="384.8" width="4.6" height="4.0" fill="#b31f09"/>
<rect x="601.2" y="382.9" width="4.6" height="6.4" fill="#8e08ed" fill-opacity="0.75"/>
<rect x="601.2" y="384.1" width="4.6" height="4.0" fill="#b21e14"/>
<rect x="605.7" y="382.1" width="4.7" height="6.4" fill="#8c07f1" fill-opacity="0.75"/>
<rect x="605.7" y="383.3" width="4.7" height="4.0" fill="#b11c1f"/>
<rect x="610.3" y="381.3" width="4.7" height="6.4" fill="#8c07f3" fill-opacity="0.75"/>
<rect x="610.3" y="382.5" width="4.7" height="4.0" fill="#b01c25"/>
<rect x="614.8" y="380.3" width="4.7" height="6.5" fill="#8b07f3" fill-opacity="0.75"/>
<rect x="614.8" y="381.5" width="4.7" height="4.1" fill="#b01b27"/>
<rect x="619.5" y="379.4" width="4.8" height="6.5" fill="#8b07f4" fill-opacity="0.75"/>
<rect x="619.5" y="380.6" width="4.8" height="4.1" fill="#b01b29"/>
<rect x="624.1" y="378.4" width="4.8" height="6.6" fill="#8b07f5" fill-opacity="0.75"/>
<rect x="624.1" y="379.6" width="4.8" height="4.2" fill="#af1b2b"/>
<rect x="628.8" y="377.4" width="4.8" height="6.7" fill="#8a06f6" fill-opacity="0.75"/>
<rect x="628.8" y="378.6" width="4.8" height="4.3" fill="#af1b2f"/>
<rect x="633.6" y="376.2" width="4.9" height="6.7" fill="#8806f8" fill-opacity="0.75"/>
<rect x="633.6" y="377.4" width="4.9" height="4.3" fill="#ae1939"/>
<rect x="638.3" y="374.9" width="4.9" height="6.8" fill="#8706fb" fill-opacity="0.75"/>
<rect x="638.3" y="376.1" width="4.9" height="4.4" fill="#ac1844"/>
<rect x="641.0" y="373.0" width="4.8" height="6.8" fill="#8505fd" fill-opacity="0.55"/>
<rect x="645.7" y="371.9" width="4.8" height="6.8" fill="#8505fd" fill-opacity="0.55"/>
<rect x="650.5" y="369.6" width="4.8" height="6.8" fill="#8505fd" fill-opacity="0.55"/>
<rect x="655.2" y="367.8" width="4.8" height="6.8" fill="#8505fd" fill-opacity="0.55"/>
<rect x="660.0" y="365.2" width="4.8" height="6.8" fill="#8505fd" fill-opacity="0.55"/>
<rect x="664.7" y="362.6" width="4.8" height="6.8" fill="#8505fd" fill-opacity="0.55"/>
<rect x="669.5" y="359.4" width="4.8" height="6.8" fill="#8505fd" fill-opacity="0.55"/>
<rect x="674.2" y="355.9" width="4.8" height="6.8" fill="#8505fd" fill-opacity="0.55"/>
<rect x="679.0" y="350.2" width="4.8" height="6.8" fill="#8505fd" fill-opacity="0.55"/>
<rect x="683.7" y="344.4" width="4.8" height="6.8" fill="#8505fd" fill-opacity="0.55"/>
<rect x="641.0" y="374.6" width="4.8" height="3.6" fill="#ab174f"/>
<rect x="645.7" y="373.5" width="4.8" height="3.6" fill="#ab174f"/>
<rect x="650.5" y="371.2" width="4.8" height="3.6" fill="#b01c23"/>
<rect x="655.2" y="369.4" width="4.8" height="3.6" fill="#b42000"/>
<rect x="660.0" y="366.8" width="4.8" height="3.6" fill="#b82400"/>
<rect x="664.7" y="364.2" width="4.8" height="3.6" fill="#c23100"/>
<rect x="669.5" y="361.0" width="4.8" height="3.6" fill="#c23100"/>
<rect x="674.2" y="357.5" width="4.8" height="3.6" fill="#ba2700"/>
<rect x="679.0" y="351.8" width="4.8" height="3.6" fill="#b01c23"/>
<rect x="683.7" y="346.0" width="4.8" height="3.6" fill="#a81568"/>
<rect x="688.5" y="338.2" width="4.8" height="3.6" fill="#8c07f3"/>
<rect x="693.2" y="327.2" width="4.8" height="3.6" fill="#8205fe"/>
<rect x="641.0" y="376.0" width="4.8" height="6.8" fill="#8505fd" fill-opacity="0.55"/>
<rect x="645.7" y="374.8" width="4.8" height="6.8" fill="#8505fd" fill-opacity="0.55"/>
<rect x="650.5" y="373.0" width="4.8" height="6.8" fill="#8505fd" fill-opacity="0.55"/>
<rect x="655.2" y="371.6" width="4.8" height="6.8" fill="#8505fd" fill-opacity="0.55"/>
<rect x="660.0" y="370.0" width="4.8" height="6.8" fill="#8505fd" fill-opacity="0.55"/>
<rect x="664.7" y="368.8" width="4.8" height="6.8" fill="#8505fd" fill-opacity="0.55"/>
<rect x="669.5" y="366.4" width="4.8" height="6.8" fill="#8505fd" fill-opacity="0.55"/>
<rect x="674.2" y="364.2" width="4.8" height="6.8" fill="#8505fd" fill-opacity="0.55"/>
<rect x="679.0" y="360.9" width="4.8" height="6.8" fill="#8505fd" fill-opacity="0.55"/>
<rect x="683.7" y="357.5" width="4.8" height="6.8" fill="#8505fd" fill-opacity="0.55"/>
<rect x="688.5" y="353.9" width="4.8" height="6.8" fill="#8505fd" fill-opacity="0.55"/>
<rect x="693.2" y="347.9" width="4.8" height="6.8" fill="#8505fd" fill-opacity="0.55"/>
<rect x="698.0" y="341.3" width="4.8" height="6.8" fill="#8505fd" fill-opacity="0.55"/>
<rect x="702.7" y="332.4" width="4.8" height="6.8" fill="#8505fd" fill-opacity="0.55"/>
<rect x="641.0" y="377.6" width="4.8" height="3.6" fill="#aa1657"/>
<rect x="645.7" y="376.4" width="4.8" height="3.6" fill="#ab174f"/>
<rect x="650.5" y="374.6" width="4.8" height="3.6" fill="#ac1846"/>
<rect x="655.2" y="373.2" width="4.8" height="3.6" fill="#b21e12"/>
<rect x="660.0" y="371.6" width="4.8" height="3.6" fill="#b42000"/>
<rect x="664.7" y="370.4" width="4.8" height="3.6" fill="#b01c23"/>
<rect x="669.5" y="368.0" width="4.8" height="3.6" fill="#b01c23"/>
<rect x="674.2" y="365.8" width="4.8" height="3.6" fill="#b01c23"/>
<rect x="679.0" y="362.5" width="4.8" height="3.6" fill="#b01c23"/>
<rect x="683.7" y="359.1" width="4.8" height="3.6" fill="#b01c23"/>
<rect x="688.5" y="355.5" width="4.8" height="3.6" fill="#b01c23"/>
<rect x="693.2" y="349.5" width="4.8" height="3.6" fill="#b42000"/>
<rect x="698.0" y="342.9" width="4.8" height="3.6" fill="#b01c23"/>
<rect x="702.7" y="334.0" width="4.8" height="3.6" fill="#a5127f"/>
<rect x="707.5" y="318.9" width="4.8" height="3.6" fill="#8906f7"/>
<rect x="650.5" y="197.0" width="4.8" height="6.6" fill="#8505fd" fill-opacity="0.35"/>
<rect x="655.2" y="193.9" width="4.8" height="6.6" fill="#8505fd" fill-opacity="0.35"/>
<rect x="660.0" y="190.9" width="4.8" height="6.6" fill="#8505fd" fill-opacity="0.35"/>
<rect x="664.7" y="187.2" width="4.8" height="6.6" fill="#8505fd" fill-opacity="0.35"/>
<rect x="669.5" y="182.5" width="4.8" height="6.6" fill="#8505fd" fill-opacity="0.35"/>
<rect x="674.2" y="178.0" width="4.8" height="6.6" fill="#8505fd" fill-opacity="0.35"/>
<rect x="683.7" y="166.2" width="4.8" height="6.6" fill="#8505fd" fill-opacity="0.35"/>
<rect x="631.6" y="206.3" width="4.8" height="3.4" fill="#8405fe"/>
<rect x="636.2" y="204.8" width="4.8" height="3.4" fill="#8906f7"/>
<rect x="641.0" y="203.3" width="4.8" height="3.4" fill="#8c07f3"/>
<rect x="645.7" y="201.7" width="4.8" height="3.4" fill="#9a0dbe"/>
<rect x="650.5" y="198.6" width="4.8" height="3.4" fill="#a81568"/>
<rect x="655.2" y="195.5" width="4.8" height="3.4" fill="#af1b2c"/>
<rect x="660.0" y="192.5" width="4.8" height="3.4" fill="#af1b2c"/>
<rect x="664.7" y="188.8" width="4.8" height="3.4" fill="#ac1846"/>
<rect x="669.5" y="184.1" width="4.8" height="3.4" fill="#a81568"/>
<rect x="674.2" y="179.6" width="4.8" height="3.4" fill="#a41287"/>
<rect x="679.0" y="174.0" width="4.8" height="3.4" fill="#960ad3"/>
<rect x="683.7" y="167.8" width="4.8" height="3.4" fill="#a81568"/>
<rect x="688.5" y="159.4" width="4.8" height="3.4" fill="#8e08ec"/>
<rect x="693.2" y="149.8" width="4.8" height="3.4" fill="#8405fe"/>
<rect x="698.0" y="137.0" width="4.8" height="3.4" fill="#8104ff"/>
<rect x="660.0" y="181.3" width="4.8" height="6.6" fill="#8505fd" fill-opacity="0.35"/>
<rect x="650.5" y="190.8" width="4.8" height="3.4" fill="#8906f7"/>
<rect x="655.2" y="187.1" width="4.8" height="3.4" fill="#9109e5"/>
<rect x="660.0" y="182.9" width="4.8" height="3.4" fill="#ae1a35"/>
<rect x="664.7" y="178.4" width="4.8" height="3.4" fill="#960ad3"/>
<rect x="669.5" y="171.2" width="4.8" height="3.4" fill="#960ad3"/>
<rect x="674.2" y="163.9" width="4.8" height="3.4" fill="#8e08ec"/>
<rect x="679.0" y="153.5" width="4.8" height="3.4" fill="#8906f7"/>
</g>
<g clip-path="url(#dc)" fill="none" stroke-linecap="round" stroke-linejoin="round">
<path d="M391,258 L422,251 L446,248" stroke="#8405fe" stroke-width="4" stroke-opacity="0.35"/>
<path d="M446,248 L470,245.5 L530,237.7 L570,228 L595,221 L615,215 L634,208" stroke="#8405fe" stroke-width="4" stroke-opacity="0.65"/>
<path d="M450,102.5 L477,97.8 L515,86.7 L553,74 L572,67.7 L590,60" stroke="#8405fe" stroke-width="3.5" stroke-opacity="0.42"/>
<path d="M256,468 L261.7,463.8 L270,454" stroke="#8405fe" stroke-width="3" stroke-opacity="0.25"/>
<path d="M270,454 L279.4,441 L290,423.2 L298.8,411.8 L309.3,405.6 L317,402.5" stroke="#8405fe" stroke-width="3" stroke-opacity="0.5"/>
<path d="M295,438 L300.5,430.3 L307.6,418.8 L312.9,411 L317,407" stroke="#8c07f3" stroke-width="2.4" stroke-opacity="0.55"/>
<path d="M231,483 Q240,486 247,495" stroke="#8104ff" stroke-width="1.6" stroke-opacity="0.35"/>
</g>
<rect x="300" y="487" width="2" height="3" fill="#a11096" fill-opacity="0.8" shape-rendering="crispEdges"/>
<g shape-rendering="crispEdges">
<rect x="101" y="38" width="1" height="497" fill="#3c3c3c"/>
<rect x="208" y="38" width="1" height="497" fill="#3c3c3c"/>
<rect x="316" y="38" width="1" height="497" fill="#3c3c3c"/>
<rect x="423" y="38" width="1" height="497" fill="#3c3c3c"/>
<rect x="530" y="38" width="1" height="497" fill="#3c3c3c"/>
<rect x="637" y="38" width="1" height="497" fill="#3c3c3c"/>
<rect x="745" y="38" width="1" height="497" fill="#3c3c3c"/>
<rect x="78" y="515" width="721" height="1" fill="#3c3c3c"/>
<rect x="78" y="475" width="721" height="1" fill="#3c3c3c"/>
<rect x="78" y="435" width="721" height="1" fill="#3c3c3c"/>
<rect x="78" y="395" width="721" height="1" fill="#3c3c3c"/>
<rect x="78" y="355" width="721" height="1" fill="#3c3c3c"/>
<rect x="78" y="315" width="721" height="1" fill="#3c3c3c"/>
<rect x="78" y="277" width="721" height="1" fill="#3c3c3c"/>
<rect x="78" y="237" width="721" height="1" fill="#3c3c3c"/>
<rect x="78" y="197" width="721" height="1" fill="#3c3c3c"/>
<rect x="78" y="157" width="721" height="1" fill="#3c3c3c"/>
<rect x="78" y="117" width="721" height="1" fill="#3c3c3c"/>
<rect x="78" y="77" width="721" height="1" fill="#3c3c3c"/>
<rect x="78" y="38" width="722" height="1" fill="#000"/>
<rect x="78" y="535" width="722" height="1" fill="#000"/>
<rect x="78" y="38" width="1" height="498" fill="#000"/>
<rect x="799" y="38" width="1" height="498" fill="#000"/>
<rect x="79" y="38" width="1" height="5" fill="#000"/>
<rect x="79" y="530" width="1" height="6" fill="#000"/>
<rect x="90" y="38" width="1" height="5" fill="#000"/>
<rect x="90" y="530" width="1" height="6" fill="#000"/>
<rect x="101" y="38" width="1" height="10" fill="#000"/>
<rect x="101" y="525" width="1" height="11" fill="#000"/>
<rect x="112" y="38" width="1" height="5" fill="#000"/>
<rect x="112" y="530" width="1" height="6" fill="#000"/>
<rect x="122" y="38" width="1" height="5" fill="#000"/>
<rect x="122" y="530" width="1" height="6" fill="#000"/>
<rect x="133" y="38" width="1" height="5" fill="#000"/>
<rect x="133" y="530" width="1" height="6" fill="#000"/>
<rect x="144" y="38" width="1" height="5" fill="#000"/>
<rect x="144" y="530" width="1" height="6" fill="#000"/>
<rect x="155" y="38" width="1" height="5" fill="#000"/>
<rect x="155" y="530" width="1" height="6" fill="#000"/>
<rect x="165" y="38" width="1" height="5" fill="#000"/>
<rect x="165" y="530" width="1" height="6" fill="#000"/>
<rect x="176" y="38" width="1" height="5" fill="#000"/>
<rect x="176" y="530" width="1" height="6" fill="#000"/>
<rect x="187" y="38" width="1" height="5" fill="#000"/>
<rect x="187" y="530" width="1" height="6" fill="#000"/>
<rect x="198" y="38" width="1" height="5" fill="#000"/>
<rect x="198" y="530" width="1" height="6" fill="#000"/>
<rect x="208" y="38" width="1" height="10" fill="#000"/>
<rect x="208" y="525" width="1" height="11" fill="#000"/>
<rect x="219" y="38" width="1" height="5" fill="#000"/>
<rect x="219" y="530" width="1" height="6" fill="#000"/>
<rect x="230" y="38" width="1" height="5" fill="#000"/>
<rect x="230" y="530" width="1" height="6" fill="#000"/>
<rect x="240" y="38" width="1" height="5" fill="#000"/>
<rect x="240" y="530" width="1" height="6" fill="#000"/>
<rect x="251" y="38" width="1" height="5" fill="#000"/>
<rect x="251" y="530" width="1" height="6" fill="#000"/>
<rect x="262" y="38" width="1" height="5" fill="#000"/>
<rect x="262" y="530" width="1" height="6" fill="#000"/>
<rect x="273" y="38" width="1" height="5" fill="#000"/>
<rect x="273" y="530" width="1" height="6" fill="#000"/>
<rect x="283" y="38" width="1" height="5" fill="#000"/>
<rect x="283" y="530" width="1" height="6" fill="#000"/>
<rect x="294" y="38" width="1" height="5" fill="#000"/>
<rect x="294" y="530" width="1" height="6" fill="#000"/>
<rect x="305" y="38" width="1" height="5" fill="#000"/>
<rect x="305" y="530" width="1" height="6" fill="#000"/>
<rect x="316" y="38" width="1" height="10" fill="#000"/>
<rect x="316" y="525" width="1" height="11" fill="#000"/>
<rect x="326" y="38" width="1" height="5" fill="#000"/>
<rect x="326" y="530" width="1" height="6" fill="#000"/>
<rect x="337" y="38" width="1" height="5" fill="#000"/>
<rect x="337" y="530" width="1" height="6" fill="#000"/>
<rect x="348" y="38" width="1" height="5" fill="#000"/>
<rect x="348" y="530" width="1" height="6" fill="#000"/>
<rect x="358" y="38" width="1" height="5" fill="#000"/>
<rect x="358" y="530" width="1" height="6" fill="#000"/>
<rect x="369" y="38" width="1" height="5" fill="#000"/>
<rect x="369" y="530" width="1" height="6" fill="#000"/>
<rect x="380" y="38" width="1" height="5" fill="#000"/>
<rect x="380" y="530" width="1" height="6" fill="#000"/>
<rect x="391" y="38" width="1" height="5" fill="#000"/>
<rect x="391" y="530" width="1" height="6" fill="#000"/>
<rect x="401" y="38" width="1" height="5" fill="#000"/>
<rect x="401" y="530" width="1" height="6" fill="#000"/>
<rect x="412" y="38" width="1" height="5" fill="#000"/>
<rect x="412" y="530" width="1" height="6" fill="#000"/>
<rect x="423" y="38" width="1" height="10" fill="#000"/>
<rect x="423" y="525" width="1" height="11" fill="#000"/>
<rect x="434" y="38" width="1" height="5" fill="#000"/>
<rect x="434" y="530" width="1" height="6" fill="#000"/>
<rect x="444" y="38" width="1" height="5" fill="#000"/>
<rect x="444" y="530" width="1" height="6" fill="#000"/>
<rect x="455" y="38" width="1" height="5" fill="#000"/>
<rect x="455" y="530" width="1" height="6" fill="#000"/>
<rect x="466" y="38" width="1" height="5" fill="#000"/>
<rect x="466" y="530" width="1" height="6" fill="#000"/>
<rect x="477" y="38" width="1" height="5" fill="#000"/>
<rect x="477" y="530" width="1" height="6" fill="#000"/>
<rect x="487" y="38" width="1" height="5" fill="#000"/>
<rect x="487" y="530" width="1" height="6" fill="#000"/>
<rect x="498" y="38" width="1" height="5" fill="#000"/>
<rect x="498" y="530" width="1" height="6" fill="#000"/>
<rect x="509" y="38" width="1" height="5" fill="#000"/>
<rect x="509" y="530" width="1" height="6" fill="#000"/>
<rect x="519" y="38" width="1" height="5" fill="#000"/>
<rect x="519" y="530" width="1" height="6" fill="#000"/>
<rect x="530" y="38" width="1" height="10" fill="#000"/>
<rect x="530" y="525" width="1" height="11" fill="#000"/>
<rect x="541" y="38" width="1" height="5" fill="#000"/>
<rect x="541" y="530" width="1" height="6" fill="#000"/>
<rect x="552" y="38" width="1" height="5" fill="#000"/>
<rect x="552" y="530" width="1" height="6" fill="#000"/>
<rect x="562" y="38" width="1" height="5" fill="#000"/>
<rect x="562" y="530" width="1" height="6" fill="#000"/>
<rect x="573" y="38" width="1" height="5" fill="#000"/>
<rect x="573" y="530" width="1" height="6" fill="#000"/>
<rect x="584" y="38" width="1" height="5" fill="#000"/>
<rect x="584" y="530" width="1" height="6" fill="#000"/>
<rect x="595" y="38" width="1" height="5" fill="#000"/>
<rect x="595" y="530" width="1" height="6" fill="#000"/>
<rect x="605" y="38" width="1" height="5" fill="#000"/>
<rect x="605" y="530" width="1" height="6" fill="#000"/>
<rect x="616" y="38" width="1" height="5" fill="#000"/>
<rect x="616" y="530" width="1" height="6" fill="#000"/>
<rect x="627" y="38" width="1" height="5" fill="#000"/>
<rect x="627" y="530" width="1" height="6" fill="#000"/>
<rect x="637" y="38" width="1" height="10" fill="#000"/>
<rect x="637" y="525" width="1" height="11" fill="#000"/>
<rect x="648" y="38" width="1" height="5" fill="#000"/>
<rect x="648" y="530" width="1" height="6" fill="#000"/>
<rect x="659" y="38" width="1" height="5" fill="#000"/>
<rect x="659" y="530" width="1" height="6" fill="#000"/>
<rect x="670" y="38" width="1" height="5" fill="#000"/>
<rect x="670" y="530" width="1" height="6" fill="#000"/>
<rect x="680" y="38" width="1" height="5" fill="#000"/>
<rect x="680" y="530" width="1" height="6" fill="#000"/>
<rect x="691" y="38" width="1" height="5" fill="#000"/>
<rect x="691" y="530" width="1" height="6" fill="#000"/>
<rect x="702" y="38" width="1" height="5" fill="#000"/>
<rect x="702" y="530" width="1" height="6" fill="#000"/>
<rect x="713" y="38" width="1" height="5" fill="#000"/>
<rect x="713" y="530" width="1" height="6" fill="#000"/>
<rect x="723" y="38" width="1" height="5" fill="#000"/>
<rect x="723" y="530" width="1" height="6" fill="#000"/>
<rect x="734" y="38" width="1" height="5" fill="#000"/>
<rect x="734" y="530" width="1" height="6" fill="#000"/>
<rect x="745" y="38" width="1" height="10" fill="#000"/>
<rect x="745" y="525" width="1" height="11" fill="#000"/>
<rect x="756" y="38" width="1" height="5" fill="#000"/>
<rect x="756" y="530" width="1" height="6" fill="#000"/>
<rect x="766" y="38" width="1" height="5" fill="#000"/>
<rect x="766" y="530" width="1" height="6" fill="#000"/>
<rect x="777" y="38" width="1" height="5" fill="#000"/>
<rect x="777" y="530" width="1" height="6" fill="#000"/>
<rect x="788" y="38" width="1" height="5" fill="#000"/>
<rect x="788" y="530" width="1" height="6" fill="#000"/>
<rect x="78" y="535" width="7" height="1" fill="#000"/>
<rect x="793" y="535" width="7" height="1" fill="#000"/>
<rect x="78" y="531" width="7" height="1" fill="#000"/>
<rect x="793" y="531" width="7" height="1" fill="#000"/>
<rect x="78" y="527" width="7" height="1" fill="#000"/>
<rect x="793" y="527" width="7" height="1" fill="#000"/>
<rect x="78" y="523" width="7" height="1" fill="#000"/>
<rect x="793" y="523" width="7" height="1" fill="#000"/>
<rect x="78" y="519" width="7" height="1" fill="#000"/>
<rect x="793" y="519" width="7" height="1" fill="#000"/>
<rect x="78" y="515" width="12" height="1" fill="#000"/>
<rect x="788" y="515" width="12" height="1" fill="#000"/>
<rect x="78" y="511" width="7" height="1" fill="#000"/>
<rect x="793" y="511" width="7" height="1" fill="#000"/>
<rect x="78" y="507" width="7" height="1" fill="#000"/>
<rect x="793" y="507" width="7" height="1" fill="#000"/>
<rect x="78" y="503" width="7" height="1" fill="#000"/>
<rect x="793" y="503" width="7" height="1" fill="#000"/>
<rect x="78" y="499" width="7" height="1" fill="#000"/>
<rect x="793" y="499" width="7" height="1" fill="#000"/>
<rect x="78" y="495" width="7" height="1" fill="#000"/>
<rect x="793" y="495" width="7" height="1" fill="#000"/>
<rect x="78" y="491" width="7" height="1" fill="#000"/>
<rect x="793" y="491" width="7" height="1" fill="#000"/>
<rect x="78" y="487" width="7" height="1" fill="#000"/>
<rect x="793" y="487" width="7" height="1" fill="#000"/>
<rect x="78" y="483" width="7" height="1" fill="#000"/>
<rect x="793" y="483" width="7" height="1" fill="#000"/>
<rect x="78" y="479" width="7" height="1" fill="#000"/>
<rect x="793" y="479" width="7" height="1" fill="#000"/>
<rect x="78" y="475" width="12" height="1" fill="#000"/>
<rect x="788" y="475" width="12" height="1" fill="#000"/>
<rect x="78" y="471" width="7" height="1" fill="#000"/>
<rect x="793" y="471" width="7" height="1" fill="#000"/>
<rect x="78" y="467" width="7" height="1" fill="#000"/>
<rect x="793" y="467" width="7" height="1" fill="#000"/>
<rect x="78" y="463" width="7" height="1" fill="#000"/>
<rect x="793" y="463" width="7" height="1" fill="#000"/>
<rect x="78" y="459" width="7" height="1" fill="#000"/>
<rect x="793" y="459" width="7" height="1" fill="#000"/>
<rect x="78" y="455" width="7" height="1" fill="#000"/>
<rect x="793" y="455" width="7" height="1" fill="#000"/>
<rect x="78" y="451" width="7" height="1" fill="#000"/>
<rect x="793" y="451" width="7" height="1" fill="#000"/>
<rect x="78" y="447" width="7" height="1" fill="#000"/>
<rect x="793" y="447" width="7" height="1" fill="#000"/>
<rect x="78" y="443" width="7" height="1" fill="#000"/>
<rect x="793" y="443" width="7" height="1" fill="#000"/>
<rect x="78" y="439" width="7" height="1" fill="#000"/>
<rect x="793" y="439" width="7" height="1" fill="#000"/>
<rect x="78" y="435" width="12" height="1" fill="#000"/>
<rect x="788" y="435" width="12" height="1" fill="#000"/>
<rect x="78" y="431" width="7" height="1" fill="#000"/>
<rect x="793" y="431" width="7" height="1" fill="#000"/>
<rect x="78" y="427" width="7" height="1" fill="#000"/>
<rect x="793" y="427" width="7" height="1" fill="#000"/>
<rect x="78" y="423" width="7" height="1" fill="#000"/>
<rect x="793" y="423" width="7" height="1" fill="#000"/>
<rect x="78" y="419" width="7" height="1" fill="#000"/>
<rect x="793" y="419" width="7" height="1" fill="#000"/>
<rect x="78" y="415" width="7" height="1" fill="#000"/>
<rect x="793" y="415" width="7" height="1" fill="#000"/>
<rect x="78" y="411" width="7" height="1" fill="#000"/>
<rect x="793" y="411" width="7" height="1" fill="#000"/>
<rect x="78" y="407" width="7" height="1" fill="#000"/>
<rect x="793" y="407" width="7" height="1" fill="#000"/>
<rect x="78" y="403" width="7" height="1" fill="#000"/>
<rect x="793" y="403" width="7" height="1" fill="#000"/>
<rect x="78" y="399" width="7" height="1" fill="#000"/>
<rect x="793" y="399" width="7" height="1" fill="#000"/>
<rect x="78" y="395" width="12" height="1" fill="#000"/>
<rect x="788" y="395" width="12" height="1" fill="#000"/>
<rect x="78" y="391" width="7" height="1" fill="#000"/>
<rect x="793" y="391" width="7" height="1" fill="#000"/>
<rect x="78" y="387" width="7" height="1" fill="#000"/>
<rect x="793" y="387" width="7" height="1" fill="#000"/>
<rect x="78" y="383" width="7" height="1" fill="#000"/>
<rect x="793" y="383" width="7" height="1" fill="#000"/>
<rect x="78" y="379" width="7" height="1" fill="#000"/>
<rect x="793" y="379" width="7" height="1" fill="#000"/>
<rect x="78" y="375" width="7" height="1" fill="#000"/>
<rect x="793" y="375" width="7" height="1" fill="#000"/>
<rect x="78" y="371" width="7" height="1" fill="#000"/>
<rect x="793" y="371" width="7" height="1" fill="#000"/>
<rect x="78" y="367" width="7" height="1" fill="#000"/>
<rect x="793" y="367" width="7" height="1" fill="#000"/>
<rect x="78" y="363" width="7" height="1" fill="#000"/>
<rect x="793" y="363" width="7" height="1" fill="#000"/>
<rect x="78" y="359" width="7" height="1" fill="#000"/>
<rect x="793" y="359" width="7" height="1" fill="#000"/>
<rect x="78" y="355" width="12" height="1" fill="#000"/>
<rect x="788" y="355" width="12" height="1" fill="#000"/>
<rect x="78" y="351" width="7" height="1" fill="#000"/>
<rect x="793" y="351" width="7" height="1" fill="#000"/>
<rect x="78" y="347" width="7" height="1" fill="#000"/>
<rect x="793" y="347" width="7" height="1" fill="#000"/>
<rect x="78" y="343" width="7" height="1" fill="#000"/>
<rect x="793" y="343" width="7" height="1" fill="#000"/>
<rect x="78" y="339" width="7" height="1" fill="#000"/>
<rect x="793" y="339" width="7" height="1" fill="#000"/>
<rect x="78" y="335" width="7" height="1" fill="#000"/>
<rect x="793" y="335" width="7" height="1" fill="#000"/>
<rect x="78" y="331" width="7" height="1" fill="#000"/>
<rect x="793" y="331" width="7" height="1" fill="#000"/>
<rect x="78" y="327" width="7" height="1" fill="#000"/>
<rect x="793" y="327" width="7" height="1" fill="#000"/>
<rect x="78" y="323" width="7" height="1" fill="#000"/>
<rect x="793" y="323" width="7" height="1" fill="#000"/>
<rect x="78" y="319" width="7" height="1" fill="#000"/>
<rect x="793" y="319" width="7" height="1" fill="#000"/>
<rect x="78" y="315" width="12" height="1" fill="#000"/>
<rect x="788" y="315" width="12" height="1" fill="#000"/>
<rect x="78" y="311" width="7" height="1" fill="#000"/>
<rect x="793" y="311" width="7" height="1" fill="#000"/>
<rect x="78" y="307" width="7" height="1" fill="#000"/>
<rect x="793" y="307" width="7" height="1" fill="#000"/>
<rect x="78" y="303" width="7" height="1" fill="#000"/>
<rect x="793" y="303" width="7" height="1" fill="#000"/>
<rect x="78" y="299" width="7" height="1" fill="#000"/>
<rect x="793" y="299" width="7" height="1" fill="#000"/>
<rect x="78" y="295" width="7" height="1" fill="#000"/>
<rect x="793" y="295" width="7" height="1" fill="#000"/>
<rect x="78" y="291" width="7" height="1" fill="#000"/>
<rect x="793" y="291" width="7" height="1" fill="#000"/>
<rect x="78" y="287" width="7" height="1" fill="#000"/>
<rect x="793" y="287" width="7" height="1" fill="#000"/>
<rect x="78" y="285" width="7" height="1" fill="#000"/>
<rect x="793" y="285" width="7" height="1" fill="#000"/>
<rect x="78" y="281" width="7" height="1" fill="#000"/>
<rect x="793" y="281" width="7" height="1" fill="#000"/>
<rect x="78" y="277" width="12" height="1" fill="#000"/>
<rect x="788" y="277" width="12" height="1" fill="#000"/>
<rect x="78" y="273" width="7" height="1" fill="#000"/>
<rect x="793" y="273" width="7" height="1" fill="#000"/>
<rect x="78" y="269" width="7" height="1" fill="#000"/>
<rect x="793" y="269" width="7" height="1" fill="#000"/>
<rect x="78" y="265" width="7" height="1" fill="#000"/>
<rect x="793" y="265" width="7" height="1" fill="#000"/>
<rect x="78" y="261" width="7" height="1" fill="#000"/>
<rect x="793" y="261" width="7" height="1" fill="#000"/>
<rect x="78" y="257" width="7" height="1" fill="#000"/>
<rect x="793" y="257" width="7" height="1" fill="#000"/>
<rect x="78" y="253" width="7" height="1" fill="#000"/>
<rect x="793" y="253" width="7" height="1" fill="#000"/>
<rect x="78" y="249" width="7" height="1" fill="#000"/>
<rect x="793" y="249" width="7" height="1" fill="#000"/>
<rect x="78" y="245" width="7" height="1" fill="#000"/>
<rect x="793" y="245" width="7" height="1" fill="#000"/>
<rect x="78" y="241" width="7" height="1" fill="#000"/>
<rect x="793" y="241" width="7" height="1" fill="#000"/>
<rect x="78" y="237" width="12" height="1" fill="#000"/>
<rect x="788" y="237" width="12" height="1" fill="#000"/>
<rect x="78" y="233" width="7" height="1" fill="#000"/>
<rect x="793" y="233" width="7" height="1" fill="#000"/>
<rect x="78" y="229" width="7" height="1" fill="#000"/>
<rect x="793" y="229" width="7" height="1" fill="#000"/>
<rect x="78" y="225" width="7" height="1" fill="#000"/>
<rect x="793" y="225" width="7" height="1" fill="#000"/>
<rect x="78" y="221" width="7" height="1" fill="#000"/>
<rect x="793" y="221" width="7" height="1" fill="#000"/>
<rect x="78" y="217" width="7" height="1" fill="#000"/>
<rect x="793" y="217" width="7" height="1" fill="#000"/>
<rect x="78" y="213" width="7" height="1" fill="#000"/>
<rect x="793" y="213" width="7" height="1" fill="#000"/>
<rect x="78" y="209" width="7" height="1" fill="#000"/>
<rect x="793" y="209" width="7" height="1" fill="#000"/>
<rect x="78" y="205" width="7" height="1" fill="#000"/>
<rect x="793" y="205" width="7" height="1" fill="#000"/>
<rect x="78" y="201" width="7" height="1" fill="#000"/>
<rect x="793" y="201" width="7" height="1" fill="#000"/>
<rect x="78" y="197" width="12" height="1" fill="#000"/>
<rect x="788" y="197" width="12" height="1" fill="#000"/>
<rect x="78" y="193" width="7" height="1" fill="#000"/>
<rect x="793" y="193" width="7" height="1" fill="#000"/>
<rect x="78" y="189" width="7" height="1" fill="#000"/>
<rect x="793" y="189" width="7" height="1" fill="#000"/>
<rect x="78" y="185" width="7" height="1" fill="#000"/>
<rect x="793" y="185" width="7" height="1" fill="#000"/>
<rect x="78" y="181" width="7" height="1" fill="#000"/>
<rect x="793" y="181" width="7" height="1" fill="#000"/>
<rect x="78" y="177" width="7" height="1" fill="#000"/>
<rect x="793" y="177" width="7" height="1" fill="#000"/>
<rect x="78" y="173" width="7" height="1" fill="#000"/>
<rect x="793" y="173" width="7" height="1" fill="#000"/>
<rect x="78" y="169" width="7" height="1" fill="#000"/>
<rect x="793" y="169" width="7" height="1" fill="#000"/>
<rect x="78" y="165" width="7" height="1" fill="#000"/>
<rect x="793" y="165" width="7" height="1" fill="#000"/>
<rect x="78" y="161" width="7" height="1" fill="#000"/>
<rect x="793" y="161" width="7" height="1" fill="#000"/>
<rect x="78" y="157" width="12" height="1" fill="#000"/>
<rect x="788" y="157" width="12" height="1" fill="#000"/>
<rect x="78" y="153" width="7" height="1" fill="#000"/>
<rect x="793" y="153" width="7" height="1" fill="#000"/>
<rect x="78" y="149" width="7" height="1" fill="#000"/>
<rect x="793" y="149" width="7" height="1" fill="#000"/>
<rect x="78" y="145" width="7" height="1" fill="#000"/>
<rect x="793" y="145" width="7" height="1" fill="#000"/>
<rect x="78" y="141" width="7" height="1" fill="#000"/>
<rect x="793" y="141" width="7" height="1" fill="#000"/>
<rect x="78" y="137" width="7" height="1" fill="#000"/>
<rect x="793" y="137" width="7" height="1" fill="#000"/>
<rect x="78" y="133" width="7" height="1" fill="#000"/>
<rect x="793" y="133" width="7" height="1" fill="#000"/>
<rect x="78" y="129" width="7" height="1" fill="#000"/>
<rect x="793" y="129" width="7" height="1" fill="#000"/>
<rect x="78" y="125" width="7" height="1" fill="#000"/>
<rect x="793" y="125" width="7" height="1" fill="#000"/>
<rect x="78" y="121" width="7" height="1" fill="#000"/>
<rect x="793" y="121" width="7" height="1" fill="#000"/>
<rect x="78" y="117" width="12" height="1" fill="#000"/>
<rect x="788" y="117" width="12" height="1" fill="#000"/>
<rect x="78" y="113" width="7" height="1" fill="#000"/>
<rect x="793" y="113" width="7" height="1" fill="#000"/>
<rect x="78" y="109" width="7" height="1" fill="#000"/>
<rect x="793" y="109" width="7" height="1" fill="#000"/>
<rect x="78" y="105" width="7" height="1" fill="#000"/>
<rect x="793" y="105" width="7" height="1" fill="#000"/>
<rect x="78" y="101" width="7" height="1" fill="#000"/>
<rect x="793" y="101" width="7" height="1" fill="#000"/>
<rect x="78" y="97" width="7" height="1" fill="#000"/>
<rect x="793" y="97" width="7" height="1" fill="#000"/>
<rect x="78" y="93" width="7" height="1" fill="#000"/>
<rect x="793" y="93" width="7" height="1" fill="#000"/>
<rect x="78" y="89" width="7" height="1" fill="#000"/>
<rect x="793" y="89" width="7" height="1" fill="#000"/>
<rect x="78" y="85" width="7" height="1" fill="#000"/>
<rect x="793" y="85" width="7" height="1" fill="#000"/>
<rect x="78" y="81" width="7" height="1" fill="#000"/>
<rect x="793" y="81" width="7" height="1" fill="#000"/>
<rect x="78" y="77" width="12" height="1" fill="#000"/>
<rect x="788" y="77" width="12" height="1" fill="#000"/>
<rect x="78" y="73" width="7" height="1" fill="#000"/>
<rect x="793" y="73" width="7" height="1" fill="#000"/>
<rect x="78" y="69" width="7" height="1" fill="#000"/>
<rect x="793" y="69" width="7" height="1" fill="#000"/>
<rect x="78" y="65" width="7" height="1" fill="#000"/>
<rect x="793" y="65" width="7" height="1" fill="#000"/>
<rect x="78" y="61" width="7" height="1" fill="#000"/>
<rect x="793" y="61" width="7" height="1" fill="#000"/>
<rect x="78" y="57" width="7" height="1" fill="#000"/>
<rect x="793" y="57" width="7" height="1" fill="#000"/>
<rect x="78" y="53" width="7" height="1" fill="#000"/>
<rect x="793" y="53" width="7" height="1" fill="#000"/>
<rect x="78" y="49" width="7" height="1" fill="#000"/>
<rect x="793" y="49" width="7" height="1" fill="#000"/>
<rect x="78" y="46" width="7" height="1" fill="#000"/>
<rect x="793" y="46" width="7" height="1" fill="#000"/>
<rect x="78" y="42" width="7" height="1" fill="#000"/>
<rect x="793" y="42" width="7" height="1" fill="#000"/>
<rect x="78" y="38" width="12" height="1" fill="#000"/>
<rect x="788" y="38" width="12" height="1" fill="#000"/>
</g>
<rect x="817" y="38" width="37" height="498" fill="url(#cb)"/>
<g shape-rendering="crispEdges">
<rect x="817" y="38" width="37" height="1" fill="#000"/>
<rect x="817" y="535" width="37" height="1" fill="#000"/>
<rect x="817" y="38" width="1" height="498" fill="#000"/>
<rect x="853" y="38" width="1" height="498" fill="#000"/>
<rect x="817" y="480" width="8" height="1" fill="#000"/>
<rect x="846" y="480" width="8" height="1" fill="#000"/>
<rect x="817" y="425" width="8" height="1" fill="#000"/>
<rect x="846" y="425" width="8" height="1" fill="#000"/>
<rect x="817" y="370" width="8" height="1" fill="#000"/>
<rect x="846" y="370" width="8" height="1" fill="#000"/>
<rect x="817" y="315" width="8" height="1" fill="#000"/>
<rect x="846" y="315" width="8" height="1" fill="#000"/>
<rect x="817" y="259" width="8" height="1" fill="#000"/>
<rect x="846" y="259" width="8" height="1" fill="#000"/>
<rect x="817" y="204" width="8" height="1" fill="#000"/>
<rect x="846" y="204" width="8" height="1" fill="#000"/>
<rect x="817" y="149" width="8" height="1" fill="#000"/>
<rect x="846" y="149" width="8" height="1" fill="#000"/>
<rect x="817" y="94" width="8" height="1" fill="#000"/>
<rect x="846" y="94" width="8" height="1" fill="#000"/>
</g>
<g opacity="0.999">
<text x="240" y="13" font-size="18" textLength="277.5" lengthAdjust="spacingAndGlyphs" stroke="#000" stroke-width="0.42">Tucuman 2025 014 17:48:05 UTC</text>
<text x="552.4" y="13" font-size="18" textLength="71.5" lengthAdjust="spacingAndGlyphs" stroke="#000" stroke-width="0.42">14Jan25</text>
<text x="746" y="20.4" font-size="18" textLength="133.5" lengthAdjust="spacingAndGlyphs" stroke="#000" stroke-width="0.42">Total Power [dB]</text>
<text x="62.5" y="519" font-size="18" text-anchor="end" stroke="#000" stroke-width="0.42">100</text>
<text x="62.5" y="479" font-size="18" text-anchor="end" stroke="#000" stroke-width="0.42">200</text>
<text x="62.5" y="439" font-size="18" text-anchor="end" stroke="#000" stroke-width="0.42">300</text>
<text x="62.5" y="399" font-size="18" text-anchor="end" stroke="#000" stroke-width="0.42">400</text>
<text x="62.5" y="359" font-size="18" text-anchor="end" stroke="#000" stroke-width="0.42">500</text>
<text x="62.5" y="319" font-size="18" text-anchor="end" stroke="#000" stroke-width="0.42">600</text>
<text x="62.5" y="281" font-size="18" text-anchor="end" stroke="#000" stroke-width="0.42">700</text>
<text x="62.5" y="241" font-size="18" text-anchor="end" stroke="#000" stroke-width="0.42">800</text>
<text x="62.5" y="201" font-size="18" text-anchor="end" stroke="#000" stroke-width="0.42">900</text>
<text x="62.5" y="161" font-size="18" text-anchor="end" stroke="#000" stroke-width="0.42">1000</text>
<text x="62.5" y="121" font-size="18" text-anchor="end" stroke="#000" stroke-width="0.42">1100</text>
<text x="62.5" y="81" font-size="18" text-anchor="end" stroke="#000" stroke-width="0.42">1200</text>
<text x="62.5" y="42" font-size="18" text-anchor="end" stroke="#000" stroke-width="0.42">1300</text>
<text x="99.6" y="562" font-size="18" text-anchor="middle" letter-spacing="0.6" stroke="#000" stroke-width="0.42">2.0</text>
<text x="206.6" y="562" font-size="18" text-anchor="middle" letter-spacing="0.6" stroke="#000" stroke-width="0.42">4.0</text>
<text x="314.6" y="562" font-size="18" text-anchor="middle" letter-spacing="0.6" stroke="#000" stroke-width="0.42">6.0</text>
<text x="421.6" y="562" font-size="18" text-anchor="middle" letter-spacing="0.6" stroke="#000" stroke-width="0.42">8.0</text>
<text x="529.2" y="562" font-size="18" text-anchor="middle" stroke="#000" stroke-width="0.42">10.0</text>
<text x="636.2" y="562" font-size="18" text-anchor="middle" stroke="#000" stroke-width="0.42">12.0</text>
<text x="744.2" y="562" font-size="18" text-anchor="middle" stroke="#000" stroke-width="0.42">14.0</text>
<text transform="translate(14,333) rotate(-90)" font-size="18" textLength="93.5" lengthAdjust="spacingAndGlyphs" stroke="#000" stroke-width="0.42">Range [km]</text>
<text x="370.4" y="590" font-size="18" textLength="138.6" lengthAdjust="spacingAndGlyphs" stroke="#000" stroke-width="0.42">Frequency [MHz]</text>
<text x="40.2" y="589" font-size="13.5" textLength="101.5" lengthAdjust="spacingAndGlyphs">RxMask 11111111</text>
<text x="591.8" y="588" font-size="13.5" textLength="214.6" lengthAdjust="spacingAndGlyphs" xml:space="preserve" style="white-space:pre">VIPIR  TMJ20_2025014174805.RIQ</text>
<text x="866.9" y="539" font-size="17">0</text>
<text x="866.9" y="484" font-size="17">10</text>
<text x="866.9" y="429" font-size="17">20</text>
<text x="866.9" y="374" font-size="17">30</text>
<text x="866.9" y="319" font-size="17">40</text>
<text x="866.9" y="263" font-size="17">50</text>
<text x="866.9" y="208" font-size="17">60</text>
<text x="866.9" y="153" font-size="17">70</text>
<text x="866.9" y="98" font-size="17">80</text>
<text x="866.9" y="42" font-size="17">90</text>
</g>
</svg></body></html>
